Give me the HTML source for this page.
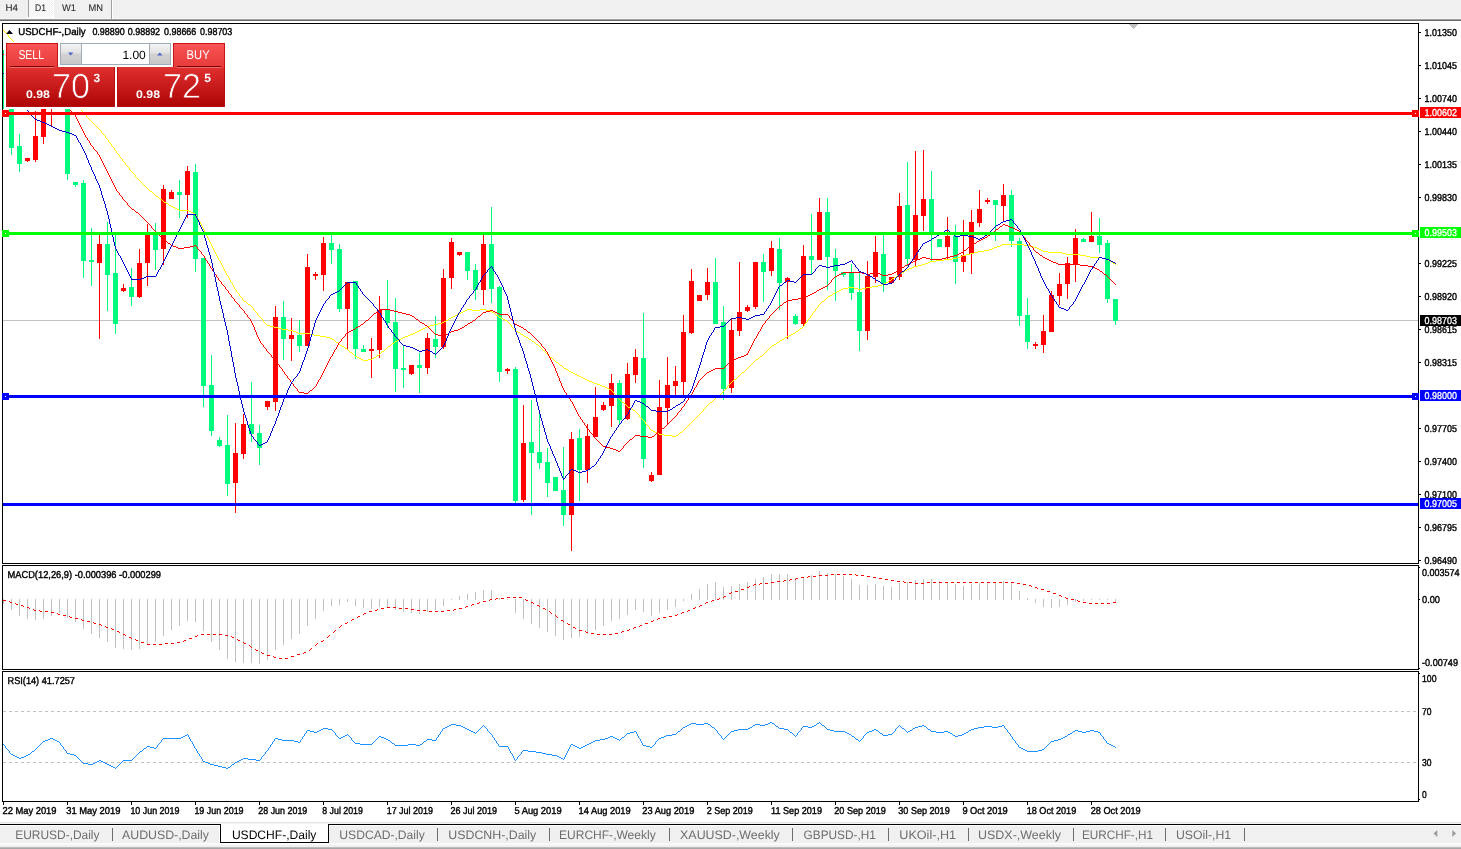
<!DOCTYPE html>
<html lang="en"><head><meta charset="utf-8"><title>USDCHF-,Daily</title>
<style>html,body{margin:0;padding:0;background:#fff;overflow:hidden}body{width:1461px;height:849px;position:relative}svg{position:absolute;left:0;top:0;display:block}text{font-family:"Liberation Sans", sans-serif;white-space:pre;text-rendering:geometricPrecision}</style>
</head><body>
<svg width="1461" height="849" viewBox="0 0 1461 849">
<defs>
<linearGradient id="gTop" x1="0" y1="0" x2="0" y2="1"><stop offset="0" stop-color="#f85454"/><stop offset="1" stop-color="#e83a3a"/></linearGradient>
<linearGradient id="gBot" gradientUnits="userSpaceOnUse" x1="0" y1="67" x2="0" y2="107"><stop offset="0" stop-color="#e03030"/><stop offset="1" stop-color="#ae0404"/></linearGradient>
<linearGradient id="gBtn" x1="0" y1="0" x2="0" y2="1"><stop offset="0" stop-color="#f4f4f4"/><stop offset="0.45" stop-color="#e2e2e2"/><stop offset="0.5" stop-color="#d2d2d2"/><stop offset="1" stop-color="#c8c8c8"/></linearGradient>
<clipPath id="cm"><rect x="3" y="24" width="1415" height="539"/></clipPath>
<pattern id="chk" x="0" y="0" width="2" height="2" patternUnits="userSpaceOnUse"><rect x="0" y="0" width="2" height="2" fill="#f0f0f0"/><rect x="0" y="0" width="1" height="1" fill="#fff"/><rect x="1" y="1" width="1" height="1" fill="#fff"/></pattern>
</defs>
<g shape-rendering="crispEdges">
<rect x="0" y="0" width="1461" height="849" fill="#fff" />
<rect x="0" y="0" width="1461" height="19" fill="#f0f0f0" />
<rect x="0" y="18" width="1461" height="1" fill="#f6f6f6" />
<rect x="0" y="19" width="1461" height="1" fill="#a0a0a0" />
<rect x="0" y="20" width="1461" height="1" fill="#6a6a6a" />
<rect x="29" y="0" width="24" height="17" fill="url(#chk)" />
<rect x="53" y="0" width="1" height="18" fill="#fff" />
<rect x="28" y="17" width="26" height="1" fill="#fff" />
<rect x="28" y="0" width="1" height="17" fill="#a0a0a0" />
<rect x="111" y="0" width="1" height="19" fill="#a0a0a0" />
<rect x="112" y="0" width="1" height="19" fill="#fff" />
<rect x="0" y="822" width="1461" height="1" fill="#e3e3e3" />
<rect x="0" y="823" width="1461" height="1" fill="#f4f4f4" />
<rect x="0" y="824" width="1461" height="1" fill="#000" />
<rect x="0" y="825" width="1461" height="18" fill="#f0f0f0" />
<rect x="0" y="825" width="1461" height="1" fill="#fff" />
<rect x="219" y="825" width="1" height="18" fill="#fff" />
<rect x="0" y="843" width="1461" height="2" fill="#fafafa" />
<rect x="0" y="845" width="1461" height="2" fill="#f0f0f0" />
<rect x="0" y="847" width="1461" height="1" fill="#bcbcbc" />
<rect x="0" y="848" width="1461" height="1" fill="#a6a6a6" />
<rect x="220" y="824" width="109" height="19" fill="#000" />
<rect x="221" y="824" width="107" height="18" fill="#fff" />
<rect x="112" y="828" width="1" height="13" fill="#6d6d6d" />
<rect x="437" y="828" width="1" height="13" fill="#6d6d6d" />
<rect x="549" y="828" width="1" height="13" fill="#6d6d6d" />
<rect x="669" y="828" width="1" height="13" fill="#6d6d6d" />
<rect x="792" y="828" width="1" height="13" fill="#6d6d6d" />
<rect x="888" y="828" width="1" height="13" fill="#6d6d6d" />
<rect x="968" y="828" width="1" height="13" fill="#6d6d6d" />
<rect x="1073" y="828" width="1" height="13" fill="#6d6d6d" />
<rect x="1165" y="828" width="1" height="13" fill="#6d6d6d" />
<rect x="1244" y="828" width="1" height="13" fill="#6d6d6d" />
<rect x="2" y="23" width="1417" height="1" fill="#000" />
<rect x="2" y="563" width="1417" height="1" fill="#000" />
<rect x="2" y="23" width="1" height="541" fill="#000" />
<rect x="2" y="565" width="1417" height="1" fill="#000" />
<rect x="2" y="669" width="1417" height="1" fill="#000" />
<rect x="2" y="565" width="1" height="105" fill="#000" />
<rect x="2" y="671" width="1417" height="1" fill="#000" />
<rect x="2" y="801" width="1417" height="1" fill="#000" />
<rect x="2" y="671" width="1" height="131" fill="#000" />
<rect x="1418" y="23" width="1" height="541" fill="#000" />
<rect x="1418" y="565" width="1" height="105" fill="#000" />
<rect x="1418" y="671" width="1" height="131" fill="#000" />
<rect x="1419" y="32" width="2" height="1" fill="#000" />
<rect x="1419" y="65" width="2" height="1" fill="#000" />
<rect x="1419" y="98" width="2" height="1" fill="#000" />
<rect x="1419" y="131" width="2" height="1" fill="#000" />
<rect x="1419" y="164" width="2" height="1" fill="#000" />
<rect x="1419" y="197" width="2" height="1" fill="#000" />
<rect x="1419" y="263" width="2" height="1" fill="#000" />
<rect x="1419" y="296" width="2" height="1" fill="#000" />
<rect x="1419" y="329" width="2" height="1" fill="#000" />
<rect x="1419" y="362" width="2" height="1" fill="#000" />
<rect x="1419" y="428" width="2" height="1" fill="#000" />
<rect x="1419" y="461" width="2" height="1" fill="#000" />
<rect x="1419" y="494" width="2" height="1" fill="#000" />
<rect x="1419" y="527" width="2" height="1" fill="#000" />
<rect x="1419" y="560" width="2" height="1" fill="#000" />
<rect x="1419" y="567" width="1" height="1" fill="#000" />
<rect x="1419" y="599" width="1" height="1" fill="#000" />
<rect x="1419" y="668" width="1" height="1" fill="#000" />
<rect x="1419" y="673" width="1" height="1" fill="#000" />
<rect x="1419" y="799" width="1" height="1" fill="#000" />
<rect x="3" y="802" width="1" height="3" fill="#000" />
<rect x="67" y="802" width="1" height="3" fill="#000" />
<rect x="131" y="802" width="1" height="3" fill="#000" />
<rect x="195" y="802" width="1" height="3" fill="#000" />
<rect x="259" y="802" width="1" height="3" fill="#000" />
<rect x="323" y="802" width="1" height="3" fill="#000" />
<rect x="387" y="802" width="1" height="3" fill="#000" />
<rect x="451" y="802" width="1" height="3" fill="#000" />
<rect x="515" y="802" width="1" height="3" fill="#000" />
<rect x="579" y="802" width="1" height="3" fill="#000" />
<rect x="643" y="802" width="1" height="3" fill="#000" />
<rect x="707" y="802" width="1" height="3" fill="#000" />
<rect x="771" y="802" width="1" height="3" fill="#000" />
<rect x="835" y="802" width="1" height="3" fill="#000" />
<rect x="899" y="802" width="1" height="3" fill="#000" />
<rect x="963" y="802" width="1" height="3" fill="#000" />
<rect x="1027" y="802" width="1" height="3" fill="#000" />
<rect x="1091" y="802" width="1" height="3" fill="#000" />
<rect x="1129" y="24" width="9" height="1" fill="#c0c0c0" />
<rect x="1130" y="25" width="7" height="1" fill="#c0c0c0" />
<rect x="1131" y="26" width="5" height="1" fill="#c0c0c0" />
<rect x="1132" y="27" width="3" height="1" fill="#c0c0c0" />
<rect x="1133" y="28" width="1" height="1" fill="#c0c0c0" />
</g>
<g clip-path="url(#cm)" shape-rendering="crispEdges">
<rect x="3" y="320" width="1415" height="1" fill="#c0c0c0" />
<rect x="3" y="50" width="1" height="59" fill="#00fa7d" />
<rect x="3" y="54" width="1" height="1" fill="#ff0000" />
<rect x="3" y="73" width="1" height="1" fill="#0000cd" />
<rect x="11" y="100" width="1" height="55" fill="#00fa7d" />
<rect x="9" y="104" width="5" height="44" fill="#00fa7d" />
<rect x="19" y="134" width="1" height="38" fill="#00fa7d" />
<rect x="17" y="146" width="5" height="18" fill="#00fa7d" />
<rect x="27" y="158" width="1" height="4" fill="#ff0000" />
<rect x="25" y="158" width="5" height="3" fill="#ff0000" />
<rect x="35" y="111" width="1" height="51" fill="#ff0000" />
<rect x="33" y="136" width="5" height="24" fill="#ff0000" />
<rect x="43" y="96" width="1" height="48" fill="#ff0000" />
<rect x="41" y="100" width="5" height="37" fill="#ff0000" />
<rect x="51" y="80" width="1" height="46" fill="#ff0000" />
<rect x="49" y="85" width="5" height="15" fill="#ff0000" />
<rect x="59" y="70" width="1" height="30" fill="#ff0000" />
<rect x="57" y="75" width="5" height="20" fill="#ff0000" />
<rect x="67" y="90" width="1" height="90" fill="#00fa7d" />
<rect x="65" y="95" width="5" height="79" fill="#00fa7d" />
<rect x="75" y="182" width="1" height="5" fill="#00fa7d" />
<rect x="73" y="182" width="5" height="3" fill="#00fa7d" />
<rect x="83" y="180" width="1" height="98" fill="#00fa7d" />
<rect x="81" y="183" width="5" height="78" fill="#00fa7d" />
<rect x="91" y="228" width="1" height="58" fill="#00fa7d" />
<rect x="89" y="260" width="5" height="2" fill="#00fa7d" />
<rect x="99" y="235" width="1" height="104" fill="#ff0000" />
<rect x="97" y="244" width="5" height="19" fill="#ff0000" />
<rect x="107" y="222" width="1" height="89" fill="#00fa7d" />
<rect x="105" y="244" width="5" height="31" fill="#00fa7d" />
<rect x="115" y="235" width="1" height="99" fill="#00fa7d" />
<rect x="113" y="273" width="5" height="51" fill="#00fa7d" />
<rect x="123" y="284" width="1" height="8" fill="#ff0000" />
<rect x="121" y="288" width="5" height="3" fill="#ff0000" />
<rect x="131" y="268" width="1" height="38" fill="#00fa7d" />
<rect x="129" y="287" width="5" height="10" fill="#00fa7d" />
<rect x="139" y="249" width="1" height="49" fill="#ff0000" />
<rect x="137" y="263" width="5" height="34" fill="#ff0000" />
<rect x="147" y="224" width="1" height="62" fill="#ff0000" />
<rect x="145" y="235" width="5" height="28" fill="#ff0000" />
<rect x="155" y="223" width="1" height="47" fill="#00fa7d" />
<rect x="153" y="235" width="5" height="15" fill="#00fa7d" />
<rect x="163" y="185" width="1" height="80" fill="#ff0000" />
<rect x="161" y="189" width="5" height="60" fill="#ff0000" />
<rect x="171" y="190" width="1" height="9" fill="#ff0000" />
<rect x="169" y="192" width="5" height="7" fill="#ff0000" />
<rect x="179" y="180" width="1" height="38" fill="#00fa7d" />
<rect x="177" y="192" width="5" height="3" fill="#00fa7d" />
<rect x="187" y="166" width="1" height="52" fill="#ff0000" />
<rect x="185" y="171" width="5" height="24" fill="#ff0000" />
<rect x="195" y="164" width="1" height="108" fill="#00fa7d" />
<rect x="193" y="172" width="5" height="87" fill="#00fa7d" />
<rect x="203" y="258" width="1" height="149" fill="#00fa7d" />
<rect x="201" y="258" width="5" height="128" fill="#00fa7d" />
<rect x="211" y="355" width="1" height="81" fill="#00fa7d" />
<rect x="209" y="385" width="5" height="46" fill="#00fa7d" />
<rect x="219" y="437" width="1" height="10" fill="#00fa7d" />
<rect x="217" y="440" width="5" height="6" fill="#00fa7d" />
<rect x="227" y="415" width="1" height="81" fill="#00fa7d" />
<rect x="225" y="445" width="5" height="39" fill="#00fa7d" />
<rect x="235" y="423" width="1" height="90" fill="#ff0000" />
<rect x="233" y="453" width="5" height="30" fill="#ff0000" />
<rect x="243" y="414" width="1" height="45" fill="#ff0000" />
<rect x="241" y="424" width="5" height="30" fill="#ff0000" />
<rect x="251" y="382" width="1" height="60" fill="#00fa7d" />
<rect x="249" y="424" width="5" height="10" fill="#00fa7d" />
<rect x="259" y="425" width="1" height="40" fill="#00fa7d" />
<rect x="257" y="433" width="5" height="15" fill="#00fa7d" />
<rect x="267" y="401" width="1" height="9" fill="#ff0000" />
<rect x="265" y="401" width="5" height="6" fill="#ff0000" />
<rect x="275" y="306" width="1" height="105" fill="#ff0000" />
<rect x="273" y="317" width="5" height="85" fill="#ff0000" />
<rect x="283" y="301" width="1" height="59" fill="#00fa7d" />
<rect x="281" y="317" width="5" height="22" fill="#00fa7d" />
<rect x="291" y="318" width="1" height="43" fill="#ff0000" />
<rect x="289" y="335" width="5" height="4" fill="#ff0000" />
<rect x="299" y="320" width="1" height="32" fill="#00fa7d" />
<rect x="297" y="335" width="5" height="11" fill="#00fa7d" />
<rect x="307" y="254" width="1" height="92" fill="#ff0000" />
<rect x="305" y="267" width="5" height="79" fill="#ff0000" />
<rect x="315" y="272" width="1" height="8" fill="#ff0000" />
<rect x="313" y="274" width="5" height="2" fill="#ff0000" />
<rect x="323" y="237" width="1" height="54" fill="#ff0000" />
<rect x="321" y="243" width="5" height="32" fill="#ff0000" />
<rect x="331" y="235" width="1" height="29" fill="#00fa7d" />
<rect x="329" y="243" width="5" height="7" fill="#00fa7d" />
<rect x="339" y="244" width="1" height="68" fill="#00fa7d" />
<rect x="337" y="249" width="5" height="60" fill="#00fa7d" />
<rect x="347" y="282" width="1" height="67" fill="#ff0000" />
<rect x="345" y="282" width="5" height="27" fill="#ff0000" />
<rect x="355" y="281" width="1" height="78" fill="#00fa7d" />
<rect x="353" y="281" width="5" height="68" fill="#00fa7d" />
<rect x="363" y="345" width="1" height="7" fill="#00fa7d" />
<rect x="361" y="349" width="5" height="3" fill="#00fa7d" />
<rect x="371" y="338" width="1" height="40" fill="#ff0000" />
<rect x="369" y="349" width="5" height="2" fill="#ff0000" />
<rect x="379" y="296" width="1" height="62" fill="#ff0000" />
<rect x="377" y="310" width="5" height="40" fill="#ff0000" />
<rect x="387" y="280" width="1" height="48" fill="#00fa7d" />
<rect x="385" y="310" width="5" height="13" fill="#00fa7d" />
<rect x="395" y="298" width="1" height="94" fill="#00fa7d" />
<rect x="393" y="322" width="5" height="47" fill="#00fa7d" />
<rect x="403" y="346" width="1" height="42" fill="#00fa7d" />
<rect x="401" y="368" width="5" height="2" fill="#00fa7d" />
<rect x="411" y="365" width="1" height="10" fill="#ff0000" />
<rect x="409" y="365" width="5" height="9" fill="#ff0000" />
<rect x="419" y="353" width="1" height="40" fill="#00fa7d" />
<rect x="417" y="365" width="5" height="3" fill="#00fa7d" />
<rect x="427" y="333" width="1" height="41" fill="#ff0000" />
<rect x="425" y="338" width="5" height="30" fill="#ff0000" />
<rect x="435" y="316" width="1" height="42" fill="#00fa7d" />
<rect x="433" y="339" width="5" height="8" fill="#00fa7d" />
<rect x="443" y="269" width="1" height="80" fill="#ff0000" />
<rect x="441" y="278" width="5" height="69" fill="#ff0000" />
<rect x="451" y="238" width="1" height="51" fill="#ff0000" />
<rect x="449" y="242" width="5" height="36" fill="#ff0000" />
<rect x="459" y="252" width="1" height="4" fill="#ff0000" />
<rect x="457" y="252" width="5" height="3" fill="#ff0000" />
<rect x="467" y="252" width="1" height="28" fill="#00fa7d" />
<rect x="465" y="252" width="5" height="19" fill="#00fa7d" />
<rect x="475" y="264" width="1" height="36" fill="#00fa7d" />
<rect x="473" y="270" width="5" height="20" fill="#00fa7d" />
<rect x="483" y="235" width="1" height="70" fill="#ff0000" />
<rect x="481" y="244" width="5" height="46" fill="#ff0000" />
<rect x="491" y="207" width="1" height="96" fill="#00fa7d" />
<rect x="489" y="244" width="5" height="45" fill="#00fa7d" />
<rect x="499" y="286" width="1" height="96" fill="#00fa7d" />
<rect x="497" y="287" width="5" height="85" fill="#00fa7d" />
<rect x="507" y="368" width="1" height="6" fill="#ff0000" />
<rect x="505" y="369" width="5" height="2" fill="#ff0000" />
<rect x="515" y="367" width="1" height="136" fill="#00fa7d" />
<rect x="513" y="369" width="5" height="132" fill="#00fa7d" />
<rect x="523" y="405" width="1" height="97" fill="#ff0000" />
<rect x="521" y="443" width="5" height="57" fill="#ff0000" />
<rect x="531" y="400" width="1" height="115" fill="#00fa7d" />
<rect x="529" y="442" width="5" height="11" fill="#00fa7d" />
<rect x="539" y="414" width="1" height="55" fill="#00fa7d" />
<rect x="537" y="452" width="5" height="11" fill="#00fa7d" />
<rect x="547" y="448" width="1" height="49" fill="#00fa7d" />
<rect x="545" y="462" width="5" height="21" fill="#00fa7d" />
<rect x="555" y="477" width="1" height="14" fill="#00fa7d" />
<rect x="553" y="477" width="5" height="14" fill="#00fa7d" />
<rect x="563" y="447" width="1" height="79" fill="#00fa7d" />
<rect x="561" y="490" width="5" height="25" fill="#00fa7d" />
<rect x="571" y="432" width="1" height="119" fill="#ff0000" />
<rect x="569" y="439" width="5" height="76" fill="#ff0000" />
<rect x="579" y="429" width="1" height="72" fill="#00fa7d" />
<rect x="577" y="438" width="5" height="32" fill="#00fa7d" />
<rect x="587" y="424" width="1" height="59" fill="#ff0000" />
<rect x="585" y="436" width="5" height="34" fill="#ff0000" />
<rect x="595" y="387" width="1" height="50" fill="#ff0000" />
<rect x="593" y="417" width="5" height="20" fill="#ff0000" />
<rect x="603" y="402" width="1" height="9" fill="#ff0000" />
<rect x="601" y="405" width="5" height="5" fill="#ff0000" />
<rect x="611" y="374" width="1" height="53" fill="#ff0000" />
<rect x="609" y="383" width="5" height="23" fill="#ff0000" />
<rect x="619" y="380" width="1" height="44" fill="#00fa7d" />
<rect x="617" y="383" width="5" height="37" fill="#00fa7d" />
<rect x="627" y="363" width="1" height="57" fill="#ff0000" />
<rect x="625" y="374" width="5" height="45" fill="#ff0000" />
<rect x="635" y="349" width="1" height="34" fill="#ff0000" />
<rect x="633" y="357" width="5" height="18" fill="#ff0000" />
<rect x="643" y="313" width="1" height="155" fill="#00fa7d" />
<rect x="641" y="358" width="5" height="101" fill="#00fa7d" />
<rect x="651" y="472" width="1" height="10" fill="#ff0000" />
<rect x="649" y="475" width="5" height="6" fill="#ff0000" />
<rect x="659" y="380" width="1" height="95" fill="#ff0000" />
<rect x="657" y="407" width="5" height="68" fill="#ff0000" />
<rect x="667" y="357" width="1" height="67" fill="#ff0000" />
<rect x="665" y="385" width="5" height="23" fill="#ff0000" />
<rect x="675" y="366" width="1" height="29" fill="#ff0000" />
<rect x="673" y="381" width="5" height="5" fill="#ff0000" />
<rect x="683" y="315" width="1" height="80" fill="#ff0000" />
<rect x="681" y="332" width="5" height="50" fill="#ff0000" />
<rect x="691" y="269" width="1" height="65" fill="#ff0000" />
<rect x="689" y="281" width="5" height="52" fill="#ff0000" />
<rect x="699" y="295" width="1" height="6" fill="#ff0000" />
<rect x="697" y="295" width="5" height="6" fill="#ff0000" />
<rect x="707" y="268" width="1" height="32" fill="#ff0000" />
<rect x="705" y="282" width="5" height="13" fill="#ff0000" />
<rect x="715" y="258" width="1" height="66" fill="#00fa7d" />
<rect x="713" y="282" width="5" height="42" fill="#00fa7d" />
<rect x="723" y="306" width="1" height="94" fill="#00fa7d" />
<rect x="721" y="322" width="5" height="67" fill="#00fa7d" />
<rect x="731" y="319" width="1" height="74" fill="#ff0000" />
<rect x="729" y="330" width="5" height="58" fill="#ff0000" />
<rect x="739" y="262" width="1" height="74" fill="#ff0000" />
<rect x="737" y="312" width="5" height="19" fill="#ff0000" />
<rect x="747" y="305" width="1" height="7" fill="#ff0000" />
<rect x="745" y="307" width="5" height="4" fill="#ff0000" />
<rect x="755" y="262" width="1" height="47" fill="#ff0000" />
<rect x="753" y="262" width="5" height="45" fill="#ff0000" />
<rect x="763" y="254" width="1" height="48" fill="#00fa7d" />
<rect x="761" y="262" width="5" height="10" fill="#00fa7d" />
<rect x="771" y="241" width="1" height="35" fill="#ff0000" />
<rect x="769" y="248" width="5" height="23" fill="#ff0000" />
<rect x="779" y="238" width="1" height="72" fill="#00fa7d" />
<rect x="777" y="249" width="5" height="34" fill="#00fa7d" />
<rect x="787" y="277" width="1" height="62" fill="#ff0000" />
<rect x="785" y="278" width="5" height="4" fill="#ff0000" />
<rect x="795" y="314" width="1" height="11" fill="#00fa7d" />
<rect x="793" y="316" width="5" height="8" fill="#00fa7d" />
<rect x="803" y="245" width="1" height="82" fill="#ff0000" />
<rect x="801" y="256" width="5" height="68" fill="#ff0000" />
<rect x="811" y="214" width="1" height="60" fill="#00fa7d" />
<rect x="809" y="256" width="5" height="4" fill="#00fa7d" />
<rect x="819" y="198" width="1" height="62" fill="#ff0000" />
<rect x="817" y="212" width="5" height="48" fill="#ff0000" />
<rect x="827" y="198" width="1" height="92" fill="#00fa7d" />
<rect x="825" y="212" width="5" height="45" fill="#00fa7d" />
<rect x="835" y="249" width="1" height="52" fill="#00fa7d" />
<rect x="833" y="258" width="5" height="13" fill="#00fa7d" />
<rect x="843" y="272" width="1" height="5" fill="#00fa7d" />
<rect x="841" y="272" width="5" height="3" fill="#00fa7d" />
<rect x="851" y="264" width="1" height="36" fill="#00fa7d" />
<rect x="849" y="273" width="5" height="20" fill="#00fa7d" />
<rect x="859" y="273" width="1" height="78" fill="#00fa7d" />
<rect x="857" y="292" width="5" height="39" fill="#00fa7d" />
<rect x="867" y="261" width="1" height="79" fill="#ff0000" />
<rect x="865" y="276" width="5" height="55" fill="#ff0000" />
<rect x="875" y="236" width="1" height="47" fill="#ff0000" />
<rect x="873" y="252" width="5" height="25" fill="#ff0000" />
<rect x="883" y="235" width="1" height="57" fill="#00fa7d" />
<rect x="881" y="254" width="5" height="30" fill="#00fa7d" />
<rect x="891" y="277" width="1" height="6" fill="#ff0000" />
<rect x="889" y="277" width="5" height="6" fill="#ff0000" />
<rect x="899" y="193" width="1" height="87" fill="#ff0000" />
<rect x="897" y="206" width="5" height="71" fill="#ff0000" />
<rect x="907" y="162" width="1" height="104" fill="#00fa7d" />
<rect x="905" y="205" width="5" height="54" fill="#00fa7d" />
<rect x="915" y="151" width="1" height="115" fill="#ff0000" />
<rect x="913" y="215" width="5" height="45" fill="#ff0000" />
<rect x="923" y="150" width="1" height="81" fill="#ff0000" />
<rect x="921" y="199" width="5" height="17" fill="#ff0000" />
<rect x="931" y="171" width="1" height="90" fill="#00fa7d" />
<rect x="929" y="199" width="5" height="36" fill="#00fa7d" />
<rect x="939" y="239" width="1" height="8" fill="#00fa7d" />
<rect x="937" y="239" width="5" height="8" fill="#00fa7d" />
<rect x="947" y="217" width="1" height="43" fill="#ff0000" />
<rect x="945" y="236" width="5" height="11" fill="#ff0000" />
<rect x="955" y="225" width="1" height="59" fill="#00fa7d" />
<rect x="953" y="236" width="5" height="26" fill="#00fa7d" />
<rect x="963" y="220" width="1" height="52" fill="#ff0000" />
<rect x="961" y="255" width="5" height="7" fill="#ff0000" />
<rect x="971" y="210" width="1" height="64" fill="#ff0000" />
<rect x="969" y="222" width="5" height="32" fill="#ff0000" />
<rect x="979" y="190" width="1" height="37" fill="#ff0000" />
<rect x="977" y="209" width="5" height="14" fill="#ff0000" />
<rect x="987" y="198" width="1" height="6" fill="#ff0000" />
<rect x="985" y="200" width="5" height="2" fill="#ff0000" />
<rect x="995" y="200" width="1" height="41" fill="#00fa7d" />
<rect x="993" y="200" width="5" height="5" fill="#00fa7d" />
<rect x="1003" y="184" width="1" height="38" fill="#ff0000" />
<rect x="1001" y="195" width="5" height="11" fill="#ff0000" />
<rect x="1011" y="190" width="1" height="57" fill="#00fa7d" />
<rect x="1009" y="195" width="5" height="46" fill="#00fa7d" />
<rect x="1019" y="238" width="1" height="88" fill="#00fa7d" />
<rect x="1017" y="241" width="5" height="75" fill="#00fa7d" />
<rect x="1027" y="298" width="1" height="51" fill="#00fa7d" />
<rect x="1025" y="315" width="5" height="27" fill="#00fa7d" />
<rect x="1035" y="342" width="1" height="7" fill="#ff0000" />
<rect x="1033" y="344" width="5" height="2" fill="#ff0000" />
<rect x="1043" y="315" width="1" height="38" fill="#ff0000" />
<rect x="1041" y="331" width="5" height="14" fill="#ff0000" />
<rect x="1051" y="291" width="1" height="41" fill="#ff0000" />
<rect x="1049" y="295" width="5" height="37" fill="#ff0000" />
<rect x="1059" y="273" width="1" height="32" fill="#ff0000" />
<rect x="1057" y="284" width="5" height="12" fill="#ff0000" />
<rect x="1067" y="257" width="1" height="42" fill="#ff0000" />
<rect x="1065" y="263" width="5" height="21" fill="#ff0000" />
<rect x="1075" y="229" width="1" height="53" fill="#ff0000" />
<rect x="1073" y="238" width="5" height="26" fill="#ff0000" />
<rect x="1083" y="238" width="1" height="4" fill="#00fa7d" />
<rect x="1081" y="239" width="5" height="3" fill="#00fa7d" />
<rect x="1091" y="212" width="1" height="30" fill="#ff0000" />
<rect x="1089" y="236" width="5" height="6" fill="#ff0000" />
<rect x="1099" y="218" width="1" height="35" fill="#00fa7d" />
<rect x="1097" y="236" width="5" height="9" fill="#00fa7d" />
<rect x="1107" y="240" width="1" height="63" fill="#00fa7d" />
<rect x="1105" y="243" width="5" height="56" fill="#00fa7d" />
<rect x="1115" y="299" width="1" height="26" fill="#00fa7d" />
<rect x="1113" y="299" width="5" height="22" fill="#00fa7d" />
<path d="M81 110h1v1h-1zM82 111h1v1h-1zM83 112h1v1h-1zM84 113h1v1h-1zM85 114h1v1h-1zM86 115h1v1h-1zM86 116h1v1h-1zM87 117h1v1h-1zM88 118h1v1h-1zM89 119h1v1h-1zM90 120h1v1h-1zM91 121h1v1h-1zM92 122h1v1h-1zM93 123h1v1h-1zM94 124h1v1h-1zM95 125h1v1h-1zM96 126h1v1h-1zM97 127h1v1h-1zM98 128h1v1h-1zM99 129h1v1h-1zM100 130h1v1h-1zM101 131h1v1h-1zM101 132h1v1h-1zM102 133h1v1h-1zM103 134h1v1h-1zM104 135h1v1h-1zM105 136h1v1h-1zM105 137h1v1h-1zM106 138h1v1h-1zM107 139h1v1h-1zM108 140h1v1h-1zM108 141h1v1h-1zM109 142h1v1h-1zM110 143h1v1h-1zM111 144h1v1h-1zM111 145h1v1h-1zM112 146h1v1h-1zM113 147h1v1h-1zM114 148h1v1h-1zM114 149h1v1h-1zM115 150h1v1h-1zM116 151h1v1h-1zM116 152h1v1h-1zM117 153h1v1h-1zM118 154h1v1h-1zM119 155h1v1h-1zM119 156h1v1h-1zM120 157h1v1h-1zM121 158h1v1h-1zM122 159h1v1h-1zM122 160h1v1h-1zM123 161h1v1h-1zM124 162h1v1h-1zM125 163h1v1h-1zM125 164h1v1h-1zM126 165h1v1h-1zM127 166h1v1h-1zM128 167h1v1h-1zM129 168h1v1h-1zM129 169h1v1h-1zM130 170h1v1h-1zM131 171h1v1h-1zM132 172h1v1h-1zM133 173h1v1h-1zM134 174h1v1h-1zM135 175h1v1h-1zM135 176h1v1h-1zM136 177h1v1h-1zM137 178h1v1h-1zM138 179h1v1h-1zM139 180h1v1h-1zM140 181h1v1h-1zM141 182h1v1h-1zM142 183h1v1h-1zM143 184h1v1h-1zM144 185h1v1h-1zM145 186h1v1h-1zM146 187h1v1h-1zM147 188h1v1h-1zM148 189h1v1h-1zM149 190h1v1h-1zM150 191h2v1h-2zM152 192h1v1h-1zM153 193h1v1h-1zM154 194h1v1h-1zM155 195h1v1h-1zM156 196h2v1h-2zM158 197h1v1h-1zM159 198h1v1h-1zM160 199h2v1h-2zM162 200h1v1h-1zM163 201h1v1h-1zM164 202h2v1h-2zM166 203h2v1h-2zM168 204h1v1h-1zM169 205h2v1h-2zM171 206h2v1h-2zM173 207h2v1h-2zM175 208h2v1h-2zM177 209h2v1h-2zM179 210h10v1h-10zM189 211h2v1h-2zM191 212h2v1h-2zM193 213h2v1h-2zM195 214h1v1h-1zM196 215h1v1h-1zM196 216h1v1h-1zM197 217h1v1h-1zM197 218h1v1h-1zM198 219h1v1h-1zM198 220h1v1h-1zM199 221h1v1h-1zM200 222h1v1h-1zM200 223h1v1h-1zM201 224h1v1h-1zM201 225h1v1h-1zM202 226h1v1h-1zM202 227h1v1h-1zM203 228h1v1h-1zM203 229h1v1h-1zM204 230h1v1h-1zM204 231h1v1h-1zM205 232h1v1h-1zM205 233h1v1h-1zM206 234h1v1h-1zM206 235h1v1h-1zM207 236h1v1h-1zM207 237h1v1h-1zM208 238h1v1h-1zM208 239h1v1h-1zM209 240h1v1h-1zM209 241h1v1h-1zM210 242h1v1h-1zM210 243h1v1h-1zM211 244h1v1h-1zM1002 244h22v1h-22zM211 245h1v1h-1zM1000 245h2v1h-2zM1024 245h6v1h-6zM212 246h1v1h-1zM997 246h3v1h-3zM1030 246h4v1h-4zM212 247h1v1h-1zM994 247h3v1h-3zM1034 247h3v1h-3zM213 248h1v1h-1zM992 248h2v1h-2zM1037 248h2v1h-2zM213 249h1v1h-1zM989 249h3v1h-3zM1039 249h2v1h-2zM214 250h1v1h-1zM984 250h5v1h-5zM1041 250h2v1h-2zM214 251h1v1h-1zM978 251h6v1h-6zM1043 251h5v1h-5zM215 252h1v1h-1zM974 252h4v1h-4zM1048 252h14v1h-14zM215 253h1v1h-1zM970 253h4v1h-4zM1062 253h4v1h-4zM216 254h1v1h-1zM966 254h4v1h-4zM1066 254h14v1h-14zM216 255h1v1h-1zM962 255h4v1h-4zM1080 255h6v1h-6zM217 256h1v1h-1zM960 256h2v1h-2zM1086 256h4v1h-4zM217 257h1v1h-1zM957 257h3v1h-3zM1090 257h12v1h-12zM218 258h1v1h-1zM952 258h5v1h-5zM1102 258h4v1h-4zM218 259h1v1h-1zM944 259h8v1h-8zM1106 259h2v1h-2zM219 260h1v1h-1zM936 260h8v1h-8zM1108 260h2v1h-2zM220 261h1v1h-1zM930 261h6v1h-6zM1110 261h2v1h-2zM220 262h1v1h-1zM928 262h2v1h-2zM1112 262h1v1h-1zM221 263h1v1h-1zM925 263h3v1h-3zM1113 263h2v1h-2zM221 264h1v1h-1zM922 264h3v1h-3zM1115 264h1v1h-1zM222 265h1v1h-1zM918 265h4v1h-4zM222 266h1v1h-1zM914 266h4v1h-4zM223 267h1v1h-1zM912 267h2v1h-2zM223 268h1v1h-1zM909 268h3v1h-3zM224 269h1v1h-1zM907 269h2v1h-2zM224 270h1v1h-1zM905 270h2v1h-2zM225 271h1v1h-1zM904 271h1v1h-1zM225 272h1v1h-1zM902 272h2v1h-2zM226 273h1v1h-1zM900 273h2v1h-2zM226 274h1v1h-1zM899 274h1v1h-1zM227 275h1v1h-1zM897 275h2v1h-2zM228 276h1v1h-1zM896 276h1v1h-1zM228 277h1v1h-1zM894 277h2v1h-2zM229 278h1v1h-1zM892 278h2v1h-2zM229 279h1v1h-1zM891 279h1v1h-1zM230 280h1v1h-1zM889 280h2v1h-2zM230 281h1v1h-1zM888 281h1v1h-1zM231 282h1v1h-1zM886 282h2v1h-2zM232 283h1v1h-1zM884 283h2v1h-2zM232 284h1v1h-1zM882 284h2v1h-2zM233 285h1v1h-1zM878 285h4v1h-4zM233 286h1v1h-1zM872 286h6v1h-6zM234 287h1v1h-1zM848 287h6v1h-6zM866 287h6v1h-6zM234 288h1v1h-1zM843 288h5v1h-5zM854 288h4v1h-4zM862 288h4v1h-4zM235 289h1v1h-1zM841 289h2v1h-2zM858 289h4v1h-4zM236 290h1v1h-1zM839 290h2v1h-2zM236 291h1v1h-1zM837 291h2v1h-2zM237 292h1v1h-1zM835 292h2v1h-2zM238 293h1v1h-1zM833 293h2v1h-2zM239 294h1v1h-1zM832 294h1v1h-1zM239 295h1v1h-1zM830 295h2v1h-2zM240 296h1v1h-1zM828 296h2v1h-2zM241 297h1v1h-1zM827 297h1v1h-1zM242 298h1v1h-1zM826 298h1v1h-1zM242 299h1v1h-1zM825 299h1v1h-1zM243 300h1v1h-1zM824 300h1v1h-1zM244 301h2v1h-2zM822 301h2v1h-2zM246 302h1v1h-1zM821 302h1v1h-1zM247 303h1v1h-1zM820 303h1v1h-1zM248 304h2v1h-2zM819 304h1v1h-1zM250 305h1v1h-1zM818 305h1v1h-1zM251 306h1v1h-1zM818 306h1v1h-1zM252 307h1v1h-1zM817 307h1v1h-1zM253 308h1v1h-1zM816 308h1v1h-1zM253 309h1v1h-1zM467 309h5v1h-5zM480 309h6v1h-6zM815 309h1v1h-1zM254 310h1v1h-1zM465 310h2v1h-2zM472 310h8v1h-8zM486 310h4v1h-4zM815 310h1v1h-1zM255 311h1v1h-1zM463 311h2v1h-2zM490 311h2v1h-2zM814 311h1v1h-1zM256 312h1v1h-1zM461 312h2v1h-2zM492 312h2v1h-2zM813 312h1v1h-1zM257 313h1v1h-1zM459 313h2v1h-2zM494 313h1v1h-1zM812 313h1v1h-1zM257 314h1v1h-1zM457 314h2v1h-2zM495 314h1v1h-1zM812 314h1v1h-1zM258 315h1v1h-1zM455 315h2v1h-2zM496 315h2v1h-2zM811 315h1v1h-1zM259 316h1v1h-1zM453 316h2v1h-2zM498 316h1v1h-1zM810 316h1v1h-1zM260 317h1v1h-1zM451 317h2v1h-2zM499 317h2v1h-2zM810 317h1v1h-1zM261 318h1v1h-1zM449 318h2v1h-2zM501 318h2v1h-2zM809 318h1v1h-1zM262 319h1v1h-1zM448 319h1v1h-1zM503 319h2v1h-2zM808 319h1v1h-1zM263 320h1v1h-1zM446 320h2v1h-2zM505 320h2v1h-2zM807 320h1v1h-1zM263 321h1v1h-1zM444 321h2v1h-2zM507 321h1v1h-1zM807 321h1v1h-1zM264 322h1v1h-1zM442 322h2v1h-2zM508 322h1v1h-1zM806 322h1v1h-1zM265 323h1v1h-1zM438 323h4v1h-4zM509 323h1v1h-1zM805 323h1v1h-1zM266 324h1v1h-1zM434 324h4v1h-4zM510 324h1v1h-1zM804 324h1v1h-1zM267 325h3v1h-3zM430 325h4v1h-4zM511 325h1v1h-1zM804 325h1v1h-1zM270 326h4v1h-4zM427 326h3v1h-3zM511 326h1v1h-1zM803 326h1v1h-1zM274 327h4v1h-4zM425 327h2v1h-2zM512 327h1v1h-1zM802 327h1v1h-1zM278 328h4v1h-4zM423 328h2v1h-2zM513 328h1v1h-1zM800 328h2v1h-2zM282 329h6v1h-6zM421 329h2v1h-2zM514 329h1v1h-1zM799 329h1v1h-1zM288 330h5v1h-5zM419 330h2v1h-2zM515 330h1v1h-1zM798 330h1v1h-1zM293 331h3v1h-3zM417 331h2v1h-2zM516 331h2v1h-2zM796 331h2v1h-2zM296 332h2v1h-2zM415 332h2v1h-2zM518 332h2v1h-2zM795 332h1v1h-1zM298 333h12v1h-12zM413 333h2v1h-2zM520 333h1v1h-1zM793 333h2v1h-2zM310 334h4v1h-4zM410 334h3v1h-3zM521 334h2v1h-2zM791 334h2v1h-2zM314 335h6v1h-6zM408 335h2v1h-2zM523 335h1v1h-1zM789 335h2v1h-2zM320 336h6v1h-6zM405 336h3v1h-3zM524 336h2v1h-2zM787 336h2v1h-2zM326 337h4v1h-4zM403 337h2v1h-2zM526 337h2v1h-2zM785 337h2v1h-2zM330 338h2v1h-2zM401 338h2v1h-2zM528 338h1v1h-1zM784 338h1v1h-1zM332 339h2v1h-2zM399 339h2v1h-2zM529 339h2v1h-2zM782 339h2v1h-2zM334 340h1v1h-1zM397 340h2v1h-2zM531 340h1v1h-1zM780 340h2v1h-2zM335 341h1v1h-1zM395 341h2v1h-2zM532 341h2v1h-2zM779 341h1v1h-1zM336 342h2v1h-2zM394 342h1v1h-1zM534 342h1v1h-1zM777 342h2v1h-2zM338 343h1v1h-1zM392 343h2v1h-2zM535 343h1v1h-1zM776 343h1v1h-1zM339 344h1v1h-1zM391 344h1v1h-1zM536 344h2v1h-2zM774 344h2v1h-2zM340 345h2v1h-2zM390 345h1v1h-1zM538 345h1v1h-1zM772 345h2v1h-2zM342 346h2v1h-2zM388 346h2v1h-2zM539 346h1v1h-1zM771 346h1v1h-1zM344 347h1v1h-1zM387 347h1v1h-1zM540 347h1v1h-1zM770 347h1v1h-1zM345 348h2v1h-2zM386 348h1v1h-1zM541 348h1v1h-1zM769 348h1v1h-1zM347 349h1v1h-1zM385 349h1v1h-1zM542 349h1v1h-1zM768 349h1v1h-1zM348 350h1v1h-1zM384 350h1v1h-1zM543 350h1v1h-1zM767 350h1v1h-1zM349 351h1v1h-1zM382 351h2v1h-2zM544 351h1v1h-1zM766 351h1v1h-1zM350 352h2v1h-2zM381 352h1v1h-1zM545 352h1v1h-1zM765 352h1v1h-1zM352 353h1v1h-1zM380 353h1v1h-1zM546 353h1v1h-1zM764 353h1v1h-1zM353 354h1v1h-1zM379 354h1v1h-1zM547 354h1v1h-1zM763 354h1v1h-1zM354 355h1v1h-1zM377 355h2v1h-2zM548 355h1v1h-1zM762 355h1v1h-1zM355 356h2v1h-2zM376 356h1v1h-1zM549 356h1v1h-1zM760 356h2v1h-2zM357 357h2v1h-2zM374 357h2v1h-2zM550 357h2v1h-2zM759 357h1v1h-1zM359 358h2v1h-2zM372 358h2v1h-2zM552 358h1v1h-1zM758 358h1v1h-1zM361 359h2v1h-2zM368 359h4v1h-4zM553 359h1v1h-1zM756 359h2v1h-2zM363 360h5v1h-5zM554 360h1v1h-1zM755 360h1v1h-1zM555 361h1v1h-1zM754 361h1v1h-1zM556 362h2v1h-2zM753 362h1v1h-1zM558 363h1v1h-1zM752 363h1v1h-1zM559 364h1v1h-1zM751 364h1v1h-1zM560 365h2v1h-2zM750 365h1v1h-1zM562 366h1v1h-1zM749 366h1v1h-1zM563 367h1v1h-1zM748 367h1v1h-1zM564 368h2v1h-2zM747 368h1v1h-1zM566 369h2v1h-2zM746 369h1v1h-1zM568 370h1v1h-1zM745 370h1v1h-1zM569 371h2v1h-2zM744 371h1v1h-1zM571 372h2v1h-2zM742 372h2v1h-2zM573 373h2v1h-2zM741 373h1v1h-1zM575 374h2v1h-2zM740 374h1v1h-1zM577 375h2v1h-2zM739 375h1v1h-1zM579 376h2v1h-2zM738 376h1v1h-1zM581 377h2v1h-2zM737 377h1v1h-1zM583 378h2v1h-2zM736 378h1v1h-1zM585 379h2v1h-2zM734 379h2v1h-2zM587 380h2v1h-2zM733 380h1v1h-1zM589 381h3v1h-3zM732 381h1v1h-1zM592 382h2v1h-2zM731 382h1v1h-1zM594 383h3v1h-3zM730 383h1v1h-1zM597 384h3v1h-3zM729 384h1v1h-1zM600 385h2v1h-2zM728 385h1v1h-1zM602 386h3v1h-3zM727 386h1v1h-1zM605 387h2v1h-2zM727 387h1v1h-1zM607 388h2v1h-2zM726 388h1v1h-1zM609 389h2v1h-2zM725 389h1v1h-1zM611 390h1v1h-1zM724 390h1v1h-1zM612 391h1v1h-1zM723 391h1v1h-1zM613 392h1v1h-1zM722 392h1v1h-1zM614 393h1v1h-1zM721 393h1v1h-1zM615 394h1v1h-1zM720 394h1v1h-1zM615 395h1v1h-1zM718 395h2v1h-2zM616 396h1v1h-1zM717 396h1v1h-1zM617 397h1v1h-1zM716 397h1v1h-1zM618 398h1v1h-1zM715 398h1v1h-1zM619 399h1v1h-1zM714 399h1v1h-1zM620 400h1v1h-1zM713 400h1v1h-1zM621 401h1v1h-1zM712 401h1v1h-1zM622 402h2v1h-2zM710 402h2v1h-2zM624 403h1v1h-1zM709 403h1v1h-1zM625 404h1v1h-1zM708 404h1v1h-1zM626 405h1v1h-1zM707 405h1v1h-1zM627 406h1v1h-1zM706 406h1v1h-1zM628 407h2v1h-2zM705 407h1v1h-1zM630 408h2v1h-2zM704 408h1v1h-1zM632 409h1v1h-1zM703 409h1v1h-1zM633 410h2v1h-2zM703 410h1v1h-1zM635 411h1v1h-1zM702 411h1v1h-1zM636 412h1v1h-1zM701 412h1v1h-1zM637 413h1v1h-1zM700 413h1v1h-1zM638 414h1v1h-1zM699 414h1v1h-1zM639 415h1v1h-1zM698 415h1v1h-1zM639 416h1v1h-1zM697 416h1v1h-1zM640 417h1v1h-1zM696 417h1v1h-1zM641 418h1v1h-1zM695 418h1v1h-1zM642 419h1v1h-1zM694 419h1v1h-1zM643 420h1v1h-1zM693 420h1v1h-1zM644 421h1v1h-1zM692 421h1v1h-1zM645 422h1v1h-1zM691 422h1v1h-1zM645 423h1v1h-1zM690 423h1v1h-1zM646 424h1v1h-1zM689 424h1v1h-1zM647 425h1v1h-1zM688 425h1v1h-1zM648 426h1v1h-1zM687 426h1v1h-1zM649 427h1v1h-1zM686 427h1v1h-1zM649 428h1v1h-1zM685 428h1v1h-1zM650 429h1v1h-1zM684 429h1v1h-1zM651 430h2v1h-2zM683 430h1v1h-1zM653 431h2v1h-2zM682 431h1v1h-1zM655 432h2v1h-2zM680 432h2v1h-2zM657 433h2v1h-2zM679 433h1v1h-1zM659 434h5v1h-5zM678 434h1v1h-1zM664 435h8v1h-8zM676 435h2v1h-2zM672 436h4v1h-4z" fill="#ffff00"/>
<path d="M70 110h1v1h-1zM71 111h1v1h-1zM72 112h1v1h-1zM73 113h1v1h-1zM74 114h1v1h-1zM75 115h1v1h-1zM75 116h1v1h-1zM76 117h1v1h-1zM76 118h1v1h-1zM77 119h1v1h-1zM77 120h1v1h-1zM78 121h1v1h-1zM78 122h1v1h-1zM79 123h1v1h-1zM79 124h1v1h-1zM80 125h1v1h-1zM80 126h1v1h-1zM81 127h1v1h-1zM81 128h1v1h-1zM82 129h1v1h-1zM82 130h1v1h-1zM83 131h1v1h-1zM83 132h1v1h-1zM84 133h1v1h-1zM84 134h1v1h-1zM85 135h1v1h-1zM85 136h1v1h-1zM86 137h1v1h-1zM87 138h1v1h-1zM87 139h1v1h-1zM88 140h1v1h-1zM89 141h1v1h-1zM89 142h1v1h-1zM90 143h1v1h-1zM90 144h1v1h-1zM91 145h1v1h-1zM92 146h1v1h-1zM93 147h1v1h-1zM93 148h1v1h-1zM94 149h1v1h-1zM95 150h1v1h-1zM96 151h1v1h-1zM97 152h1v1h-1zM97 153h1v1h-1zM98 154h1v1h-1zM99 155h1v1h-1zM99 156h1v1h-1zM100 157h1v1h-1zM100 158h1v1h-1zM101 159h1v1h-1zM101 160h1v1h-1zM102 161h1v1h-1zM102 162h1v1h-1zM103 163h1v1h-1zM103 164h1v1h-1zM104 165h1v1h-1zM104 166h1v1h-1zM105 167h1v1h-1zM105 168h1v1h-1zM106 169h1v1h-1zM106 170h1v1h-1zM107 171h1v1h-1zM107 172h1v1h-1zM108 173h1v1h-1zM108 174h1v1h-1zM109 175h1v1h-1zM109 176h1v1h-1zM110 177h1v1h-1zM110 178h1v1h-1zM111 179h1v1h-1zM111 180h1v1h-1zM112 181h1v1h-1zM112 182h1v1h-1zM113 183h1v1h-1zM113 184h1v1h-1zM114 185h1v1h-1zM114 186h1v1h-1zM115 187h1v1h-1zM115 188h1v1h-1zM116 189h1v1h-1zM116 190h1v1h-1zM117 191h1v1h-1zM118 192h1v1h-1zM119 193h1v1h-1zM119 194h1v1h-1zM120 195h1v1h-1zM121 196h1v1h-1zM122 197h1v1h-1zM122 198h1v1h-1zM123 199h1v1h-1zM124 200h1v1h-1zM125 201h1v1h-1zM126 202h1v1h-1zM127 203h1v1h-1zM127 204h1v1h-1zM128 205h1v1h-1zM129 206h1v1h-1zM130 207h1v1h-1zM131 208h1v1h-1zM132 209h2v1h-2zM134 210h1v1h-1zM135 211h1v1h-1zM136 212h2v1h-2zM138 213h1v1h-1zM139 214h1v1h-1zM140 215h1v1h-1zM141 216h1v1h-1zM142 217h1v1h-1zM143 218h1v1h-1zM144 219h1v1h-1zM145 220h1v1h-1zM146 221h1v1h-1zM147 222h1v1h-1zM148 223h1v1h-1zM149 224h1v1h-1zM1003 224h2v1h-2zM150 225h1v1h-1zM1002 225h1v1h-1zM1005 225h3v1h-3zM151 226h1v1h-1zM1000 226h2v1h-2zM1008 226h2v1h-2zM151 227h1v1h-1zM999 227h1v1h-1zM1010 227h3v1h-3zM152 228h1v1h-1zM998 228h1v1h-1zM1013 228h2v1h-2zM153 229h1v1h-1zM996 229h2v1h-2zM1015 229h2v1h-2zM154 230h1v1h-1zM995 230h1v1h-1zM1017 230h2v1h-2zM155 231h1v1h-1zM994 231h1v1h-1zM1019 231h1v1h-1zM156 232h1v1h-1zM992 232h2v1h-2zM1020 232h1v1h-1zM157 233h1v1h-1zM991 233h1v1h-1zM1021 233h1v1h-1zM158 234h1v1h-1zM990 234h1v1h-1zM1021 234h1v1h-1zM159 235h1v1h-1zM988 235h2v1h-2zM1022 235h1v1h-1zM160 236h1v1h-1zM987 236h1v1h-1zM1023 236h1v1h-1zM161 237h1v1h-1zM985 237h2v1h-2zM1024 237h1v1h-1zM162 238h1v1h-1zM983 238h2v1h-2zM1025 238h1v1h-1zM163 239h1v1h-1zM981 239h2v1h-2zM1025 239h1v1h-1zM164 240h2v1h-2zM979 240h2v1h-2zM1026 240h1v1h-1zM166 241h1v1h-1zM977 241h2v1h-2zM1027 241h1v1h-1zM167 242h1v1h-1zM976 242h1v1h-1zM1028 242h1v1h-1zM168 243h2v1h-2zM974 243h2v1h-2zM1029 243h1v1h-1zM170 244h1v1h-1zM972 244h2v1h-2zM1029 244h1v1h-1zM171 245h2v1h-2zM194 245h2v1h-2zM971 245h1v1h-1zM1030 245h1v1h-1zM173 246h3v1h-3zM190 246h4v1h-4zM196 246h1v1h-1zM970 246h1v1h-1zM1031 246h1v1h-1zM176 247h2v1h-2zM184 247h6v1h-6zM197 247h1v1h-1zM968 247h2v1h-2zM1032 247h1v1h-1zM178 248h6v1h-6zM197 248h1v1h-1zM967 248h1v1h-1zM1033 248h1v1h-1zM198 249h1v1h-1zM966 249h1v1h-1zM1033 249h1v1h-1zM199 250h1v1h-1zM964 250h2v1h-2zM1034 250h1v1h-1zM200 251h1v1h-1zM963 251h1v1h-1zM1035 251h1v1h-1zM201 252h1v1h-1zM961 252h2v1h-2zM1036 252h2v1h-2zM201 253h1v1h-1zM959 253h2v1h-2zM1038 253h1v1h-1zM202 254h1v1h-1zM957 254h2v1h-2zM1039 254h1v1h-1zM203 255h1v1h-1zM954 255h3v1h-3zM1040 255h2v1h-2zM204 256h1v1h-1zM950 256h4v1h-4zM1042 256h1v1h-1zM204 257h1v1h-1zM922 257h4v1h-4zM946 257h4v1h-4zM1043 257h2v1h-2zM205 258h1v1h-1zM920 258h2v1h-2zM926 258h4v1h-4zM942 258h4v1h-4zM1045 258h2v1h-2zM205 259h1v1h-1zM917 259h3v1h-3zM930 259h12v1h-12zM1047 259h2v1h-2zM206 260h1v1h-1zM915 260h2v1h-2zM1049 260h2v1h-2zM207 261h1v1h-1zM913 261h2v1h-2zM1051 261h2v1h-2zM207 262h1v1h-1zM911 262h2v1h-2zM1053 262h3v1h-3zM208 263h1v1h-1zM909 263h2v1h-2zM1056 263h2v1h-2zM209 264h1v1h-1zM907 264h2v1h-2zM1058 264h22v1h-22zM209 265h1v1h-1zM905 265h2v1h-2zM1080 265h8v1h-8zM210 266h1v1h-1zM904 266h1v1h-1zM1088 266h5v1h-5zM210 267h1v1h-1zM902 267h2v1h-2zM1093 267h2v1h-2zM211 268h1v1h-1zM900 268h2v1h-2zM1095 268h2v1h-2zM212 269h1v1h-1zM899 269h1v1h-1zM1097 269h2v1h-2zM212 270h1v1h-1zM897 270h2v1h-2zM1099 270h1v1h-1zM213 271h1v1h-1zM896 271h1v1h-1zM1100 271h2v1h-2zM214 272h1v1h-1zM843 272h19v1h-19zM874 272h3v1h-3zM894 272h2v1h-2zM1102 272h1v1h-1zM214 273h1v1h-1zM841 273h2v1h-2zM862 273h4v1h-4zM870 273h4v1h-4zM877 273h3v1h-3zM892 273h2v1h-2zM1103 273h1v1h-1zM215 274h1v1h-1zM839 274h2v1h-2zM866 274h4v1h-4zM880 274h2v1h-2zM888 274h4v1h-4zM1104 274h2v1h-2zM216 275h1v1h-1zM837 275h2v1h-2zM882 275h6v1h-6zM1106 275h1v1h-1zM216 276h1v1h-1zM835 276h2v1h-2zM1107 276h1v1h-1zM217 277h1v1h-1zM834 277h1v1h-1zM1108 277h1v1h-1zM218 278h1v1h-1zM833 278h1v1h-1zM1109 278h1v1h-1zM218 279h1v1h-1zM832 279h1v1h-1zM1110 279h1v1h-1zM219 280h1v1h-1zM831 280h1v1h-1zM1111 280h1v1h-1zM220 281h1v1h-1zM831 281h1v1h-1zM1112 281h1v1h-1zM221 282h1v1h-1zM830 282h1v1h-1zM1113 282h1v1h-1zM221 283h1v1h-1zM829 283h1v1h-1zM1114 283h1v1h-1zM222 284h1v1h-1zM828 284h1v1h-1zM1115 284h1v1h-1zM223 285h1v1h-1zM827 285h1v1h-1zM224 286h1v1h-1zM825 286h2v1h-2zM225 287h1v1h-1zM823 287h2v1h-2zM225 288h1v1h-1zM821 288h2v1h-2zM226 289h1v1h-1zM819 289h2v1h-2zM227 290h1v1h-1zM817 290h2v1h-2zM228 291h1v1h-1zM816 291h1v1h-1zM228 292h1v1h-1zM814 292h2v1h-2zM229 293h1v1h-1zM812 293h2v1h-2zM230 294h1v1h-1zM810 294h2v1h-2zM231 295h1v1h-1zM808 295h2v1h-2zM231 296h1v1h-1zM805 296h3v1h-3zM232 297h1v1h-1zM802 297h3v1h-3zM233 298h1v1h-1zM798 298h4v1h-4zM234 299h1v1h-1zM792 299h6v1h-6zM234 300h1v1h-1zM787 300h5v1h-5zM235 301h1v1h-1zM786 301h1v1h-1zM236 302h1v1h-1zM784 302h2v1h-2zM237 303h1v1h-1zM783 303h1v1h-1zM238 304h1v1h-1zM782 304h1v1h-1zM239 305h1v1h-1zM780 305h2v1h-2zM239 306h1v1h-1zM779 306h1v1h-1zM240 307h1v1h-1zM778 307h1v1h-1zM241 308h1v1h-1zM777 308h1v1h-1zM242 309h1v1h-1zM379 309h11v1h-11zM776 309h1v1h-1zM243 310h1v1h-1zM378 310h1v1h-1zM390 310h4v1h-4zM490 310h3v1h-3zM775 310h1v1h-1zM244 311h1v1h-1zM377 311h1v1h-1zM394 311h4v1h-4zM486 311h4v1h-4zM493 311h2v1h-2zM774 311h1v1h-1zM244 312h1v1h-1zM376 312h1v1h-1zM398 312h4v1h-4zM483 312h3v1h-3zM495 312h2v1h-2zM773 312h1v1h-1zM245 313h1v1h-1zM374 313h2v1h-2zM402 313h4v1h-4zM482 313h1v1h-1zM497 313h2v1h-2zM772 313h1v1h-1zM246 314h1v1h-1zM373 314h1v1h-1zM406 314h4v1h-4zM481 314h1v1h-1zM499 314h9v1h-9zM771 314h1v1h-1zM247 315h1v1h-1zM372 315h1v1h-1zM410 315h2v1h-2zM480 315h1v1h-1zM508 315h1v1h-1zM770 315h1v1h-1zM247 316h1v1h-1zM371 316h1v1h-1zM412 316h2v1h-2zM478 316h2v1h-2zM509 316h1v1h-1zM769 316h1v1h-1zM248 317h1v1h-1zM370 317h1v1h-1zM414 317h1v1h-1zM477 317h1v1h-1zM509 317h1v1h-1zM769 317h1v1h-1zM249 318h1v1h-1zM369 318h1v1h-1zM415 318h1v1h-1zM476 318h1v1h-1zM510 318h1v1h-1zM768 318h1v1h-1zM250 319h1v1h-1zM368 319h1v1h-1zM416 319h2v1h-2zM475 319h1v1h-1zM511 319h1v1h-1zM767 319h1v1h-1zM250 320h1v1h-1zM366 320h2v1h-2zM418 320h1v1h-1zM473 320h2v1h-2zM512 320h1v1h-1zM766 320h1v1h-1zM251 321h1v1h-1zM365 321h1v1h-1zM419 321h1v1h-1zM472 321h1v1h-1zM513 321h1v1h-1zM765 321h1v1h-1zM251 322h1v1h-1zM364 322h1v1h-1zM420 322h2v1h-2zM470 322h2v1h-2zM513 322h1v1h-1zM765 322h1v1h-1zM252 323h1v1h-1zM363 323h1v1h-1zM422 323h2v1h-2zM468 323h2v1h-2zM514 323h1v1h-1zM764 323h1v1h-1zM252 324h1v1h-1zM361 324h2v1h-2zM424 324h1v1h-1zM467 324h1v1h-1zM515 324h2v1h-2zM763 324h1v1h-1zM253 325h1v1h-1zM360 325h1v1h-1zM425 325h2v1h-2zM465 325h2v1h-2zM517 325h2v1h-2zM762 325h1v1h-1zM253 326h1v1h-1zM358 326h2v1h-2zM427 326h1v1h-1zM464 326h1v1h-1zM519 326h2v1h-2zM762 326h1v1h-1zM254 327h1v1h-1zM356 327h2v1h-2zM428 327h1v1h-1zM462 327h2v1h-2zM521 327h2v1h-2zM761 327h1v1h-1zM254 328h1v1h-1zM355 328h1v1h-1zM429 328h1v1h-1zM460 328h2v1h-2zM523 328h1v1h-1zM761 328h1v1h-1zM254 329h1v1h-1zM353 329h2v1h-2zM430 329h1v1h-1zM458 329h2v1h-2zM524 329h2v1h-2zM760 329h1v1h-1zM255 330h1v1h-1zM351 330h2v1h-2zM431 330h1v1h-1zM454 330h4v1h-4zM526 330h1v1h-1zM760 330h1v1h-1zM255 331h1v1h-1zM349 331h2v1h-2zM432 331h1v1h-1zM451 331h3v1h-3zM527 331h1v1h-1zM759 331h1v1h-1zM256 332h1v1h-1zM347 332h2v1h-2zM433 332h1v1h-1zM449 332h2v1h-2zM528 332h2v1h-2zM758 332h1v1h-1zM256 333h1v1h-1zM346 333h1v1h-1zM434 333h1v1h-1zM448 333h1v1h-1zM530 333h1v1h-1zM758 333h1v1h-1zM256 334h1v1h-1zM345 334h1v1h-1zM435 334h3v1h-3zM446 334h2v1h-2zM531 334h1v1h-1zM757 334h1v1h-1zM257 335h1v1h-1zM345 335h1v1h-1zM438 335h4v1h-4zM444 335h2v1h-2zM532 335h1v1h-1zM757 335h1v1h-1zM257 336h1v1h-1zM344 336h1v1h-1zM442 336h2v1h-2zM533 336h1v1h-1zM756 336h1v1h-1zM258 337h1v1h-1zM343 337h1v1h-1zM534 337h1v1h-1zM756 337h1v1h-1zM258 338h1v1h-1zM342 338h1v1h-1zM535 338h1v1h-1zM755 338h1v1h-1zM259 339h1v1h-1zM341 339h1v1h-1zM536 339h1v1h-1zM754 339h1v1h-1zM259 340h1v1h-1zM341 340h1v1h-1zM537 340h1v1h-1zM754 340h1v1h-1zM260 341h1v1h-1zM340 341h1v1h-1zM538 341h1v1h-1zM753 341h1v1h-1zM260 342h1v1h-1zM339 342h1v1h-1zM539 342h1v1h-1zM753 342h1v1h-1zM261 343h1v1h-1zM338 343h1v1h-1zM540 343h1v1h-1zM752 343h1v1h-1zM262 344h1v1h-1zM338 344h1v1h-1zM541 344h1v1h-1zM752 344h1v1h-1zM263 345h1v1h-1zM337 345h1v1h-1zM541 345h1v1h-1zM751 345h1v1h-1zM263 346h1v1h-1zM337 346h1v1h-1zM542 346h1v1h-1zM751 346h1v1h-1zM264 347h1v1h-1zM336 347h1v1h-1zM543 347h1v1h-1zM750 347h1v1h-1zM265 348h1v1h-1zM336 348h1v1h-1zM544 348h1v1h-1zM750 348h1v1h-1zM266 349h1v1h-1zM335 349h1v1h-1zM545 349h1v1h-1zM749 349h1v1h-1zM266 350h1v1h-1zM334 350h1v1h-1zM545 350h1v1h-1zM749 350h1v1h-1zM267 351h1v1h-1zM334 351h1v1h-1zM546 351h1v1h-1zM748 351h1v1h-1zM268 352h1v1h-1zM333 352h1v1h-1zM547 352h1v1h-1zM748 352h1v1h-1zM269 353h1v1h-1zM333 353h1v1h-1zM547 353h1v1h-1zM747 353h1v1h-1zM270 354h1v1h-1zM332 354h1v1h-1zM548 354h1v1h-1zM746 354h2v1h-2zM271 355h1v1h-1zM332 355h1v1h-1zM548 355h1v1h-1zM744 355h2v1h-2zM271 356h1v1h-1zM331 356h1v1h-1zM549 356h1v1h-1zM741 356h3v1h-3zM272 357h1v1h-1zM330 357h1v1h-1zM549 357h1v1h-1zM738 357h3v1h-3zM273 358h1v1h-1zM330 358h1v1h-1zM550 358h1v1h-1zM736 358h2v1h-2zM274 359h1v1h-1zM329 359h1v1h-1zM550 359h1v1h-1zM733 359h3v1h-3zM275 360h1v1h-1zM329 360h1v1h-1zM551 360h1v1h-1zM731 360h2v1h-2zM276 361h1v1h-1zM328 361h1v1h-1zM551 361h1v1h-1zM730 361h1v1h-1zM276 362h1v1h-1zM328 362h1v1h-1zM552 362h1v1h-1zM729 362h1v1h-1zM277 363h1v1h-1zM327 363h1v1h-1zM552 363h1v1h-1zM728 363h1v1h-1zM278 364h1v1h-1zM327 364h1v1h-1zM553 364h1v1h-1zM727 364h1v1h-1zM279 365h1v1h-1zM326 365h1v1h-1zM553 365h1v1h-1zM726 365h1v1h-1zM279 366h1v1h-1zM326 366h1v1h-1zM554 366h1v1h-1zM725 366h1v1h-1zM280 367h1v1h-1zM325 367h1v1h-1zM554 367h1v1h-1zM724 367h1v1h-1zM281 368h1v1h-1zM325 368h1v1h-1zM555 368h1v1h-1zM715 368h9v1h-9zM282 369h1v1h-1zM324 369h1v1h-1zM555 369h1v1h-1zM713 369h2v1h-2zM282 370h1v1h-1zM324 370h1v1h-1zM555 370h1v1h-1zM711 370h2v1h-2zM283 371h1v1h-1zM323 371h1v1h-1zM556 371h1v1h-1zM709 371h2v1h-2zM284 372h1v1h-1zM323 372h1v1h-1zM556 372h1v1h-1zM707 372h2v1h-2zM284 373h1v1h-1zM322 373h1v1h-1zM557 373h1v1h-1zM706 373h1v1h-1zM285 374h1v1h-1zM322 374h1v1h-1zM557 374h1v1h-1zM705 374h1v1h-1zM286 375h1v1h-1zM321 375h1v1h-1zM557 375h1v1h-1zM704 375h1v1h-1zM287 376h1v1h-1zM321 376h1v1h-1zM558 376h1v1h-1zM703 376h1v1h-1zM287 377h1v1h-1zM320 377h1v1h-1zM558 377h1v1h-1zM702 377h1v1h-1zM288 378h1v1h-1zM320 378h1v1h-1zM559 378h1v1h-1zM701 378h1v1h-1zM289 379h1v1h-1zM319 379h1v1h-1zM559 379h1v1h-1zM700 379h1v1h-1zM290 380h1v1h-1zM318 380h1v1h-1zM559 380h1v1h-1zM699 380h1v1h-1zM290 381h1v1h-1zM318 381h1v1h-1zM560 381h1v1h-1zM698 381h1v1h-1zM291 382h1v1h-1zM317 382h1v1h-1zM560 382h1v1h-1zM698 382h1v1h-1zM292 383h1v1h-1zM317 383h1v1h-1zM561 383h1v1h-1zM697 383h1v1h-1zM293 384h1v1h-1zM316 384h1v1h-1zM561 384h1v1h-1zM697 384h1v1h-1zM293 385h1v1h-1zM316 385h1v1h-1zM561 385h1v1h-1zM696 385h1v1h-1zM294 386h1v1h-1zM315 386h1v1h-1zM562 386h1v1h-1zM696 386h1v1h-1zM295 387h1v1h-1zM314 387h1v1h-1zM562 387h1v1h-1zM695 387h1v1h-1zM296 388h1v1h-1zM313 388h1v1h-1zM563 388h1v1h-1zM694 388h1v1h-1zM297 389h1v1h-1zM312 389h1v1h-1zM563 389h1v1h-1zM694 389h1v1h-1zM297 390h1v1h-1zM310 390h2v1h-2zM564 390h1v1h-1zM693 390h1v1h-1zM298 391h1v1h-1zM309 391h1v1h-1zM564 391h1v1h-1zM693 391h1v1h-1zM299 392h5v1h-5zM308 392h1v1h-1zM565 392h1v1h-1zM692 392h1v1h-1zM304 393h4v1h-4zM566 393h1v1h-1zM692 393h1v1h-1zM566 394h1v1h-1zM691 394h1v1h-1zM567 395h1v1h-1zM690 395h1v1h-1zM568 396h1v1h-1zM690 396h1v1h-1zM568 397h1v1h-1zM689 397h1v1h-1zM569 398h1v1h-1zM688 398h1v1h-1zM570 399h1v1h-1zM688 399h1v1h-1zM570 400h1v1h-1zM687 400h1v1h-1zM571 401h1v1h-1zM686 401h1v1h-1zM572 402h1v1h-1zM686 402h1v1h-1zM572 403h1v1h-1zM685 403h1v1h-1zM573 404h1v1h-1zM684 404h1v1h-1zM573 405h1v1h-1zM684 405h1v1h-1zM574 406h1v1h-1zM683 406h1v1h-1zM574 407h1v1h-1zM682 407h1v1h-1zM575 408h1v1h-1zM681 408h1v1h-1zM575 409h1v1h-1zM681 409h1v1h-1zM576 410h1v1h-1zM680 410h1v1h-1zM576 411h1v1h-1zM679 411h1v1h-1zM577 412h1v1h-1zM678 412h1v1h-1zM577 413h1v1h-1zM677 413h1v1h-1zM578 414h1v1h-1zM677 414h1v1h-1zM578 415h1v1h-1zM676 415h1v1h-1zM579 416h1v1h-1zM675 416h1v1h-1zM580 417h1v1h-1zM674 417h1v1h-1zM580 418h1v1h-1zM673 418h1v1h-1zM581 419h1v1h-1zM672 419h1v1h-1zM582 420h1v1h-1zM671 420h1v1h-1zM582 421h1v1h-1zM670 421h1v1h-1zM583 422h1v1h-1zM669 422h1v1h-1zM584 423h1v1h-1zM668 423h1v1h-1zM584 424h1v1h-1zM667 424h1v1h-1zM585 425h1v1h-1zM666 425h1v1h-1zM586 426h1v1h-1zM665 426h1v1h-1zM586 427h1v1h-1zM664 427h1v1h-1zM587 428h1v1h-1zM662 428h2v1h-2zM588 429h1v1h-1zM661 429h1v1h-1zM589 430h1v1h-1zM660 430h1v1h-1zM589 431h1v1h-1zM659 431h1v1h-1zM590 432h1v1h-1zM658 432h1v1h-1zM591 433h1v1h-1zM656 433h2v1h-2zM592 434h1v1h-1zM655 434h1v1h-1zM593 435h1v1h-1zM635 435h5v1h-5zM654 435h1v1h-1zM593 436h1v1h-1zM634 436h1v1h-1zM640 436h8v1h-8zM652 436h2v1h-2zM594 437h1v1h-1zM633 437h1v1h-1zM648 437h4v1h-4zM595 438h1v1h-1zM632 438h1v1h-1zM596 439h1v1h-1zM630 439h2v1h-2zM597 440h1v1h-1zM629 440h1v1h-1zM598 441h1v1h-1zM628 441h1v1h-1zM599 442h1v1h-1zM627 442h1v1h-1zM600 443h1v1h-1zM626 443h1v1h-1zM601 444h1v1h-1zM625 444h1v1h-1zM602 445h1v1h-1zM624 445h1v1h-1zM603 446h3v1h-3zM623 446h1v1h-1zM606 447h4v1h-4zM623 447h1v1h-1zM610 448h3v1h-3zM622 448h1v1h-1zM613 449h3v1h-3zM621 449h1v1h-1zM616 450h2v1h-2zM620 450h1v1h-1zM618 451h2v1h-2z" fill="#ff0000"/>
<path d="M27 110h1v1h-1zM28 111h1v1h-1zM29 112h1v1h-1zM30 113h1v1h-1zM31 114h1v1h-1zM31 115h1v1h-1zM32 116h1v1h-1zM33 117h1v1h-1zM34 118h1v1h-1zM35 119h2v1h-2zM37 120h3v1h-3zM40 121h2v1h-2zM42 122h3v1h-3zM45 123h2v1h-2zM47 124h2v1h-2zM49 125h2v1h-2zM51 126h2v1h-2zM53 127h2v1h-2zM55 128h2v1h-2zM57 129h2v1h-2zM59 130h3v1h-3zM62 131h4v1h-4zM66 132h3v1h-3zM69 133h3v1h-3zM72 134h2v1h-2zM74 135h2v1h-2zM76 136h1v1h-1zM76 137h1v1h-1zM77 138h1v1h-1zM77 139h1v1h-1zM78 140h1v1h-1zM78 141h1v1h-1zM79 142h1v1h-1zM80 143h1v1h-1zM80 144h1v1h-1zM81 145h1v1h-1zM81 146h1v1h-1zM82 147h1v1h-1zM82 148h1v1h-1zM83 149h1v1h-1zM83 150h1v1h-1zM84 151h1v1h-1zM84 152h1v1h-1zM85 153h1v1h-1zM85 154h1v1h-1zM86 155h1v1h-1zM86 156h1v1h-1zM86 157h1v1h-1zM87 158h1v1h-1zM87 159h1v1h-1zM88 160h1v1h-1zM88 161h1v1h-1zM88 162h1v1h-1zM89 163h1v1h-1zM89 164h1v1h-1zM90 165h1v1h-1zM90 166h1v1h-1zM91 167h1v1h-1zM91 168h1v1h-1zM91 169h1v1h-1zM92 170h1v1h-1zM92 171h1v1h-1zM93 172h1v1h-1zM93 173h1v1h-1zM94 174h1v1h-1zM94 175h1v1h-1zM95 176h1v1h-1zM95 177h1v1h-1zM95 178h1v1h-1zM96 179h1v1h-1zM96 180h1v1h-1zM97 181h1v1h-1zM97 182h1v1h-1zM98 183h1v1h-1zM98 184h1v1h-1zM99 185h1v1h-1zM99 186h1v1h-1zM99 187h1v1h-1zM100 188h1v1h-1zM100 189h1v1h-1zM100 190h1v1h-1zM101 191h1v1h-1zM101 192h1v1h-1zM101 193h1v1h-1zM101 194h1v1h-1zM102 195h1v1h-1zM102 196h1v1h-1zM102 197h1v1h-1zM103 198h1v1h-1zM103 199h1v1h-1zM103 200h1v1h-1zM104 201h1v1h-1zM104 202h1v1h-1zM104 203h1v1h-1zM105 204h1v1h-1zM105 205h1v1h-1zM105 206h1v1h-1zM105 207h1v1h-1zM106 208h1v1h-1zM106 209h1v1h-1zM106 210h1v1h-1zM107 211h1v1h-1zM107 212h1v1h-1zM107 213h1v1h-1zM107 214h1v1h-1zM187 214h9v1h-9zM108 215h1v1h-1zM186 215h1v1h-1zM195 215h1v1h-1zM108 216h1v1h-1zM186 216h1v1h-1zM196 216h1v1h-1zM108 217h1v1h-1zM185 217h1v1h-1zM196 217h1v1h-1zM108 218h1v1h-1zM185 218h1v1h-1zM197 218h1v1h-1zM109 219h1v1h-1zM184 219h1v1h-1zM197 219h1v1h-1zM1010 219h2v1h-2zM109 220h1v1h-1zM184 220h1v1h-1zM198 220h1v1h-1zM1006 220h4v1h-4zM1012 220h1v1h-1zM109 221h1v1h-1zM183 221h1v1h-1zM198 221h1v1h-1zM1003 221h3v1h-3zM1013 221h1v1h-1zM109 222h1v1h-1zM183 222h1v1h-1zM199 222h1v1h-1zM1001 222h2v1h-2zM1013 222h1v1h-1zM109 223h1v1h-1zM182 223h1v1h-1zM199 223h1v1h-1zM1000 223h1v1h-1zM1014 223h1v1h-1zM110 224h1v1h-1zM182 224h1v1h-1zM199 224h1v1h-1zM998 224h2v1h-2zM1015 224h1v1h-1zM110 225h1v1h-1zM181 225h1v1h-1zM200 225h1v1h-1zM996 225h2v1h-2zM1016 225h1v1h-1zM110 226h1v1h-1zM181 226h1v1h-1zM200 226h1v1h-1zM995 226h1v1h-1zM1017 226h1v1h-1zM110 227h1v1h-1zM180 227h1v1h-1zM201 227h1v1h-1zM994 227h1v1h-1zM1017 227h1v1h-1zM111 228h1v1h-1zM180 228h1v1h-1zM201 228h1v1h-1zM993 228h1v1h-1zM1018 228h1v1h-1zM111 229h1v1h-1zM179 229h1v1h-1zM202 229h1v1h-1zM947 229h1v1h-1zM992 229h1v1h-1zM1019 229h1v1h-1zM111 230h1v1h-1zM179 230h1v1h-1zM202 230h1v1h-1zM945 230h2v1h-2zM948 230h1v1h-1zM991 230h1v1h-1zM1020 230h1v1h-1zM111 231h1v1h-1zM178 231h1v1h-1zM203 231h1v1h-1zM944 231h1v1h-1zM949 231h1v1h-1zM990 231h1v1h-1zM1020 231h1v1h-1zM111 232h1v1h-1zM178 232h1v1h-1zM203 232h1v1h-1zM942 232h2v1h-2zM950 232h2v1h-2zM989 232h1v1h-1zM1021 232h1v1h-1zM112 233h1v1h-1zM177 233h1v1h-1zM203 233h1v1h-1zM940 233h2v1h-2zM952 233h1v1h-1zM988 233h1v1h-1zM1021 233h1v1h-1zM112 234h1v1h-1zM177 234h1v1h-1zM204 234h1v1h-1zM939 234h1v1h-1zM953 234h1v1h-1zM987 234h1v1h-1zM1022 234h1v1h-1zM112 235h1v1h-1zM176 235h1v1h-1zM204 235h1v1h-1zM937 235h2v1h-2zM954 235h1v1h-1zM960 235h8v1h-8zM985 235h2v1h-2zM1022 235h1v1h-1zM112 236h1v1h-1zM176 236h1v1h-1zM204 236h1v1h-1zM936 236h1v1h-1zM955 236h5v1h-5zM968 236h5v1h-5zM984 236h1v1h-1zM1023 236h1v1h-1zM113 237h1v1h-1zM175 237h1v1h-1zM204 237h1v1h-1zM934 237h2v1h-2zM973 237h3v1h-3zM982 237h2v1h-2zM1023 237h1v1h-1zM113 238h1v1h-1zM175 238h1v1h-1zM205 238h1v1h-1zM932 238h2v1h-2zM976 238h2v1h-2zM980 238h2v1h-2zM1024 238h1v1h-1zM113 239h1v1h-1zM174 239h1v1h-1zM205 239h1v1h-1zM931 239h1v1h-1zM978 239h2v1h-2zM1024 239h1v1h-1zM113 240h1v1h-1zM174 240h1v1h-1zM205 240h1v1h-1zM929 240h2v1h-2zM1025 240h1v1h-1zM113 241h1v1h-1zM173 241h1v1h-1zM206 241h1v1h-1zM927 241h2v1h-2zM1025 241h1v1h-1zM114 242h1v1h-1zM173 242h1v1h-1zM206 242h1v1h-1zM925 242h2v1h-2zM1026 242h1v1h-1zM114 243h1v1h-1zM172 243h1v1h-1zM206 243h1v1h-1zM923 243h2v1h-2zM1026 243h1v1h-1zM114 244h1v1h-1zM172 244h1v1h-1zM206 244h1v1h-1zM922 244h1v1h-1zM1027 244h1v1h-1zM114 245h1v1h-1zM171 245h1v1h-1zM207 245h1v1h-1zM922 245h1v1h-1zM1027 245h1v1h-1zM115 246h1v1h-1zM171 246h1v1h-1zM207 246h1v1h-1zM921 246h1v1h-1zM1028 246h1v1h-1zM115 247h1v1h-1zM170 247h1v1h-1zM207 247h1v1h-1zM920 247h1v1h-1zM1028 247h1v1h-1zM115 248h1v1h-1zM170 248h1v1h-1zM208 248h1v1h-1zM920 248h1v1h-1zM1029 248h1v1h-1zM116 249h1v1h-1zM169 249h1v1h-1zM208 249h1v1h-1zM919 249h1v1h-1zM1029 249h1v1h-1zM116 250h1v1h-1zM169 250h1v1h-1zM208 250h1v1h-1zM918 250h1v1h-1zM1030 250h1v1h-1zM117 251h1v1h-1zM168 251h1v1h-1zM208 251h1v1h-1zM918 251h1v1h-1zM1030 251h1v1h-1zM117 252h1v1h-1zM168 252h1v1h-1zM209 252h1v1h-1zM917 252h1v1h-1zM1031 252h1v1h-1zM118 253h1v1h-1zM167 253h1v1h-1zM209 253h1v1h-1zM916 253h1v1h-1zM1031 253h1v1h-1zM118 254h1v1h-1zM167 254h1v1h-1zM209 254h1v1h-1zM916 254h1v1h-1zM1031 254h1v1h-1zM119 255h1v1h-1zM166 255h1v1h-1zM210 255h1v1h-1zM915 255h1v1h-1zM1032 255h1v1h-1zM120 256h1v1h-1zM166 256h1v1h-1zM210 256h1v1h-1zM914 256h1v1h-1zM1032 256h1v1h-1zM120 257h1v1h-1zM165 257h1v1h-1zM210 257h1v1h-1zM914 257h1v1h-1zM1033 257h1v1h-1zM1099 257h3v1h-3zM121 258h1v1h-1zM165 258h1v1h-1zM210 258h1v1h-1zM913 258h1v1h-1zM1033 258h1v1h-1zM1098 258h1v1h-1zM1102 258h4v1h-4zM121 259h1v1h-1zM164 259h1v1h-1zM211 259h1v1h-1zM912 259h1v1h-1zM1034 259h1v1h-1zM1098 259h1v1h-1zM1106 259h3v1h-3zM122 260h1v1h-1zM164 260h1v1h-1zM211 260h1v1h-1zM851 260h1v1h-1zM912 260h1v1h-1zM1034 260h1v1h-1zM1097 260h1v1h-1zM1109 260h2v1h-2zM122 261h1v1h-1zM163 261h1v1h-1zM211 261h1v1h-1zM849 261h2v1h-2zM852 261h1v1h-1zM911 261h1v1h-1zM1035 261h1v1h-1zM1096 261h1v1h-1zM1111 261h2v1h-2zM123 262h1v1h-1zM163 262h1v1h-1zM211 262h1v1h-1zM847 262h2v1h-2zM852 262h1v1h-1zM910 262h1v1h-1zM1035 262h1v1h-1zM1096 262h1v1h-1zM1113 262h2v1h-2zM123 263h1v1h-1zM162 263h1v1h-1zM212 263h1v1h-1zM845 263h2v1h-2zM853 263h1v1h-1zM910 263h1v1h-1zM1035 263h1v1h-1zM1095 263h1v1h-1zM1115 263h1v1h-1zM124 264h1v1h-1zM162 264h1v1h-1zM212 264h1v1h-1zM840 264h5v1h-5zM854 264h1v1h-1zM909 264h1v1h-1zM1036 264h1v1h-1zM1094 264h1v1h-1zM124 265h1v1h-1zM161 265h1v1h-1zM212 265h1v1h-1zM819 265h3v1h-3zM834 265h6v1h-6zM855 265h1v1h-1zM908 265h1v1h-1zM1036 265h1v1h-1zM1094 265h1v1h-1zM125 266h1v1h-1zM161 266h1v1h-1zM212 266h1v1h-1zM491 266h1v1h-1zM818 266h1v1h-1zM822 266h4v1h-4zM830 266h4v1h-4zM855 266h1v1h-1zM908 266h1v1h-1zM1037 266h1v1h-1zM1093 266h1v1h-1zM125 267h1v1h-1zM160 267h1v1h-1zM212 267h1v1h-1zM490 267h1v1h-1zM492 267h1v1h-1zM817 267h1v1h-1zM826 267h4v1h-4zM856 267h1v1h-1zM907 267h1v1h-1zM1037 267h1v1h-1zM1092 267h1v1h-1zM126 268h1v1h-1zM160 268h1v1h-1zM213 268h1v1h-1zM489 268h1v1h-1zM492 268h1v1h-1zM816 268h1v1h-1zM857 268h1v1h-1zM906 268h1v1h-1zM1038 268h1v1h-1zM1092 268h1v1h-1zM126 269h1v1h-1zM159 269h1v1h-1zM213 269h1v1h-1zM488 269h1v1h-1zM493 269h1v1h-1zM815 269h1v1h-1zM858 269h1v1h-1zM905 269h1v1h-1zM1038 269h1v1h-1zM1091 269h1v1h-1zM127 270h1v1h-1zM158 270h1v1h-1zM213 270h1v1h-1zM487 270h1v1h-1zM493 270h1v1h-1zM815 270h1v1h-1zM858 270h1v1h-1zM904 270h1v1h-1zM1038 270h1v1h-1zM1090 270h1v1h-1zM127 271h1v1h-1zM158 271h1v1h-1zM213 271h1v1h-1zM487 271h1v1h-1zM494 271h1v1h-1zM814 271h1v1h-1zM859 271h2v1h-2zM902 271h2v1h-2zM1039 271h1v1h-1zM1090 271h1v1h-1zM128 272h1v1h-1zM157 272h1v1h-1zM214 272h1v1h-1zM486 272h1v1h-1zM495 272h1v1h-1zM813 272h1v1h-1zM861 272h3v1h-3zM901 272h1v1h-1zM1039 272h1v1h-1zM1089 272h1v1h-1zM128 273h1v1h-1zM157 273h1v1h-1zM214 273h1v1h-1zM485 273h1v1h-1zM495 273h1v1h-1zM812 273h1v1h-1zM864 273h2v1h-2zM900 273h1v1h-1zM1040 273h1v1h-1zM1089 273h1v1h-1zM129 274h1v1h-1zM156 274h1v1h-1zM214 274h1v1h-1zM484 274h1v1h-1zM496 274h1v1h-1zM803 274h9v1h-9zM866 274h2v1h-2zM899 274h1v1h-1zM1040 274h1v1h-1zM1088 274h1v1h-1zM129 275h1v1h-1zM156 275h1v1h-1zM214 275h1v1h-1zM483 275h1v1h-1zM497 275h1v1h-1zM802 275h1v1h-1zM868 275h2v1h-2zM898 275h1v1h-1zM1040 275h1v1h-1zM1088 275h1v1h-1zM130 276h1v1h-1zM146 276h10v1h-10zM214 276h1v1h-1zM482 276h1v1h-1zM497 276h1v1h-1zM801 276h1v1h-1zM870 276h2v1h-2zM897 276h1v1h-1zM1041 276h1v1h-1zM1087 276h1v1h-1zM130 277h1v1h-1zM144 277h2v1h-2zM215 277h1v1h-1zM482 277h1v1h-1zM498 277h1v1h-1zM800 277h1v1h-1zM872 277h1v1h-1zM896 277h1v1h-1zM1041 277h1v1h-1zM1087 277h1v1h-1zM131 278h1v1h-1zM141 278h3v1h-3zM215 278h1v1h-1zM481 278h1v1h-1zM498 278h1v1h-1zM799 278h1v1h-1zM873 278h2v1h-2zM895 278h1v1h-1zM1042 278h1v1h-1zM1086 278h1v1h-1zM131 279h10v1h-10zM215 279h1v1h-1zM481 279h1v1h-1zM499 279h1v1h-1zM798 279h1v1h-1zM875 279h1v1h-1zM895 279h1v1h-1zM1042 279h1v1h-1zM1086 279h1v1h-1zM215 280h1v1h-1zM480 280h1v1h-1zM499 280h1v1h-1zM787 280h3v1h-3zM797 280h1v1h-1zM876 280h2v1h-2zM894 280h1v1h-1zM1043 280h1v1h-1zM1085 280h1v1h-1zM215 281h1v1h-1zM480 281h1v1h-1zM500 281h1v1h-1zM786 281h1v1h-1zM790 281h4v1h-4zM796 281h1v1h-1zM878 281h2v1h-2zM893 281h1v1h-1zM1043 281h1v1h-1zM1085 281h1v1h-1zM216 282h1v1h-1zM347 282h9v1h-9zM479 282h1v1h-1zM500 282h1v1h-1zM784 282h2v1h-2zM794 282h2v1h-2zM880 282h1v1h-1zM892 282h1v1h-1zM1044 282h1v1h-1zM1084 282h1v1h-1zM216 283h1v1h-1zM346 283h1v1h-1zM356 283h1v1h-1zM478 283h1v1h-1zM501 283h1v1h-1zM783 283h1v1h-1zM881 283h2v1h-2zM888 283h4v1h-4zM1044 283h1v1h-1zM1084 283h1v1h-1zM216 284h1v1h-1zM345 284h1v1h-1zM356 284h1v1h-1zM478 284h1v1h-1zM501 284h1v1h-1zM782 284h1v1h-1zM883 284h5v1h-5zM1045 284h1v1h-1zM1083 284h1v1h-1zM216 285h1v1h-1zM344 285h1v1h-1zM357 285h1v1h-1zM477 285h1v1h-1zM502 285h1v1h-1zM780 285h2v1h-2zM1045 285h1v1h-1zM1082 285h1v1h-1zM216 286h1v1h-1zM343 286h1v1h-1zM358 286h1v1h-1zM477 286h1v1h-1zM502 286h1v1h-1zM779 286h1v1h-1zM1046 286h1v1h-1zM1082 286h1v1h-1zM217 287h1v1h-1zM342 287h1v1h-1zM358 287h1v1h-1zM476 287h1v1h-1zM503 287h1v1h-1zM778 287h1v1h-1zM1046 287h1v1h-1zM1081 287h1v1h-1zM217 288h1v1h-1zM341 288h1v1h-1zM359 288h1v1h-1zM476 288h1v1h-1zM503 288h1v1h-1zM778 288h1v1h-1zM1047 288h1v1h-1zM1081 288h1v1h-1zM217 289h1v1h-1zM340 289h1v1h-1zM360 289h1v1h-1zM475 289h1v1h-1zM503 289h1v1h-1zM777 289h1v1h-1zM1048 289h1v1h-1zM1080 289h1v1h-1zM217 290h1v1h-1zM339 290h1v1h-1zM360 290h1v1h-1zM474 290h1v1h-1zM504 290h1v1h-1zM777 290h1v1h-1zM1048 290h1v1h-1zM1080 290h1v1h-1zM218 291h1v1h-1zM337 291h2v1h-2zM361 291h1v1h-1zM473 291h1v1h-1zM504 291h1v1h-1zM776 291h1v1h-1zM1049 291h1v1h-1zM1079 291h1v1h-1zM218 292h1v1h-1zM335 292h2v1h-2zM362 292h1v1h-1zM473 292h1v1h-1zM505 292h1v1h-1zM776 292h1v1h-1zM1049 292h1v1h-1zM1079 292h1v1h-1zM218 293h1v1h-1zM333 293h2v1h-2zM362 293h1v1h-1zM472 293h1v1h-1zM505 293h1v1h-1zM775 293h1v1h-1zM1050 293h1v1h-1zM1078 293h1v1h-1zM218 294h1v1h-1zM331 294h2v1h-2zM363 294h1v1h-1zM471 294h1v1h-1zM506 294h1v1h-1zM775 294h1v1h-1zM1050 294h1v1h-1zM1078 294h1v1h-1zM218 295h1v1h-1zM330 295h1v1h-1zM364 295h1v1h-1zM470 295h1v1h-1zM506 295h1v1h-1zM774 295h1v1h-1zM1051 295h1v1h-1zM1077 295h1v1h-1zM219 296h1v1h-1zM329 296h1v1h-1zM365 296h1v1h-1zM469 296h1v1h-1zM507 296h1v1h-1zM774 296h1v1h-1zM1052 296h1v1h-1zM1077 296h1v1h-1zM219 297h1v1h-1zM329 297h1v1h-1zM366 297h1v1h-1zM469 297h1v1h-1zM507 297h1v1h-1zM773 297h1v1h-1zM1052 297h1v1h-1zM1076 297h1v1h-1zM219 298h1v1h-1zM328 298h1v1h-1zM367 298h1v1h-1zM468 298h1v1h-1zM507 298h1v1h-1zM773 298h1v1h-1zM1053 298h1v1h-1zM1076 298h1v1h-1zM219 299h1v1h-1zM327 299h1v1h-1zM368 299h1v1h-1zM467 299h1v1h-1zM507 299h1v1h-1zM772 299h1v1h-1zM1054 299h1v1h-1zM1075 299h1v1h-1zM219 300h1v1h-1zM326 300h1v1h-1zM369 300h1v1h-1zM466 300h1v1h-1zM508 300h1v1h-1zM772 300h1v1h-1zM1054 300h1v1h-1zM1075 300h1v1h-1zM220 301h1v1h-1zM325 301h1v1h-1zM370 301h1v1h-1zM466 301h1v1h-1zM508 301h1v1h-1zM771 301h1v1h-1zM1055 301h1v1h-1zM1074 301h1v1h-1zM220 302h1v1h-1zM325 302h1v1h-1zM371 302h1v1h-1zM465 302h1v1h-1zM508 302h1v1h-1zM771 302h1v1h-1zM1056 302h1v1h-1zM1073 302h1v1h-1zM220 303h1v1h-1zM324 303h1v1h-1zM372 303h1v1h-1zM465 303h1v1h-1zM508 303h1v1h-1zM770 303h1v1h-1zM1056 303h1v1h-1zM1073 303h1v1h-1zM220 304h1v1h-1zM323 304h1v1h-1zM373 304h1v1h-1zM464 304h1v1h-1zM509 304h1v1h-1zM770 304h1v1h-1zM1057 304h1v1h-1zM1072 304h1v1h-1zM221 305h1v1h-1zM323 305h1v1h-1zM373 305h1v1h-1zM463 305h1v1h-1zM509 305h1v1h-1zM769 305h1v1h-1zM1058 305h1v1h-1zM1071 305h1v1h-1zM221 306h1v1h-1zM322 306h1v1h-1zM374 306h1v1h-1zM463 306h1v1h-1zM509 306h1v1h-1zM768 306h1v1h-1zM1058 306h1v1h-1zM1070 306h1v1h-1zM221 307h1v1h-1zM322 307h1v1h-1zM375 307h1v1h-1zM462 307h1v1h-1zM509 307h1v1h-1zM768 307h1v1h-1zM1059 307h2v1h-2zM1069 307h1v1h-1zM221 308h1v1h-1zM321 308h1v1h-1zM376 308h1v1h-1zM461 308h1v1h-1zM510 308h1v1h-1zM767 308h1v1h-1zM1061 308h3v1h-3zM1069 308h1v1h-1zM222 309h1v1h-1zM321 309h1v1h-1zM377 309h1v1h-1zM461 309h1v1h-1zM510 309h1v1h-1zM766 309h1v1h-1zM1064 309h2v1h-2zM1068 309h1v1h-1zM222 310h1v1h-1zM320 310h1v1h-1zM377 310h1v1h-1zM460 310h1v1h-1zM510 310h1v1h-1zM766 310h1v1h-1zM1066 310h2v1h-2zM222 311h1v1h-1zM320 311h1v1h-1zM378 311h1v1h-1zM460 311h1v1h-1zM510 311h1v1h-1zM765 311h1v1h-1zM222 312h1v1h-1zM319 312h1v1h-1zM379 312h1v1h-1zM459 312h1v1h-1zM511 312h1v1h-1zM764 312h1v1h-1zM223 313h1v1h-1zM319 313h1v1h-1zM380 313h1v1h-1zM458 313h1v1h-1zM511 313h1v1h-1zM764 313h1v1h-1zM223 314h1v1h-1zM318 314h1v1h-1zM380 314h1v1h-1zM458 314h1v1h-1zM511 314h1v1h-1zM760 314h4v1h-4zM223 315h1v1h-1zM318 315h1v1h-1zM381 315h1v1h-1zM457 315h1v1h-1zM511 315h1v1h-1zM755 315h5v1h-5zM223 316h1v1h-1zM317 316h1v1h-1zM381 316h1v1h-1zM457 316h1v1h-1zM512 316h1v1h-1zM753 316h2v1h-2zM223 317h1v1h-1zM317 317h1v1h-1zM382 317h1v1h-1zM456 317h1v1h-1zM512 317h1v1h-1zM736 317h6v1h-6zM751 317h2v1h-2zM224 318h1v1h-1zM316 318h1v1h-1zM383 318h1v1h-1zM456 318h1v1h-1zM512 318h1v1h-1zM731 318h5v1h-5zM742 318h4v1h-4zM749 318h2v1h-2zM224 319h1v1h-1zM316 319h1v1h-1zM383 319h1v1h-1zM455 319h1v1h-1zM512 319h1v1h-1zM730 319h1v1h-1zM746 319h3v1h-3zM224 320h1v1h-1zM315 320h1v1h-1zM384 320h1v1h-1zM455 320h1v1h-1zM513 320h1v1h-1zM729 320h1v1h-1zM224 321h1v1h-1zM315 321h1v1h-1zM385 321h1v1h-1zM454 321h1v1h-1zM513 321h1v1h-1zM728 321h1v1h-1zM225 322h1v1h-1zM315 322h1v1h-1zM385 322h1v1h-1zM454 322h1v1h-1zM513 322h1v1h-1zM727 322h1v1h-1zM225 323h1v1h-1zM314 323h1v1h-1zM386 323h1v1h-1zM453 323h1v1h-1zM513 323h1v1h-1zM726 323h1v1h-1zM225 324h1v1h-1zM314 324h1v1h-1zM386 324h1v1h-1zM453 324h1v1h-1zM514 324h1v1h-1zM725 324h1v1h-1zM225 325h1v1h-1zM314 325h1v1h-1zM387 325h1v1h-1zM452 325h1v1h-1zM514 325h1v1h-1zM724 325h1v1h-1zM226 326h1v1h-1zM314 326h1v1h-1zM388 326h1v1h-1zM452 326h1v1h-1zM514 326h1v1h-1zM720 326h4v1h-4zM226 327h1v1h-1zM313 327h1v1h-1zM388 327h1v1h-1zM451 327h1v1h-1zM514 327h1v1h-1zM715 327h5v1h-5zM226 328h1v1h-1zM313 328h1v1h-1zM389 328h1v1h-1zM451 328h1v1h-1zM515 328h1v1h-1zM714 328h1v1h-1zM226 329h1v1h-1zM313 329h1v1h-1zM390 329h1v1h-1zM450 329h1v1h-1zM515 329h1v1h-1zM714 329h1v1h-1zM227 330h1v1h-1zM312 330h1v1h-1zM391 330h1v1h-1zM450 330h1v1h-1zM515 330h1v1h-1zM713 330h1v1h-1zM227 331h1v1h-1zM312 331h1v1h-1zM391 331h1v1h-1zM449 331h1v1h-1zM515 331h1v1h-1zM713 331h1v1h-1zM227 332h1v1h-1zM312 332h1v1h-1zM392 332h1v1h-1zM449 332h1v1h-1zM516 332h1v1h-1zM712 332h1v1h-1zM227 333h1v1h-1zM312 333h1v1h-1zM393 333h1v1h-1zM448 333h1v1h-1zM516 333h1v1h-1zM711 333h1v1h-1zM227 334h1v1h-1zM311 334h1v1h-1zM394 334h1v1h-1zM448 334h1v1h-1zM516 334h1v1h-1zM711 334h1v1h-1zM228 335h1v1h-1zM311 335h1v1h-1zM394 335h1v1h-1zM448 335h1v1h-1zM517 335h1v1h-1zM710 335h1v1h-1zM228 336h1v1h-1zM311 336h1v1h-1zM395 336h1v1h-1zM447 336h1v1h-1zM517 336h1v1h-1zM709 336h1v1h-1zM228 337h1v1h-1zM310 337h1v1h-1zM396 337h1v1h-1zM447 337h1v1h-1zM518 337h1v1h-1zM709 337h1v1h-1zM228 338h1v1h-1zM310 338h1v1h-1zM397 338h1v1h-1zM446 338h1v1h-1zM518 338h1v1h-1zM708 338h1v1h-1zM228 339h1v1h-1zM310 339h1v1h-1zM398 339h1v1h-1zM446 339h1v1h-1zM518 339h1v1h-1zM708 339h1v1h-1zM228 340h1v1h-1zM310 340h1v1h-1zM399 340h1v1h-1zM446 340h1v1h-1zM519 340h1v1h-1zM707 340h1v1h-1zM229 341h1v1h-1zM309 341h1v1h-1zM399 341h1v1h-1zM445 341h1v1h-1zM519 341h1v1h-1zM707 341h1v1h-1zM229 342h1v1h-1zM309 342h1v1h-1zM400 342h1v1h-1zM445 342h1v1h-1zM519 342h1v1h-1zM706 342h1v1h-1zM229 343h1v1h-1zM309 343h1v1h-1zM401 343h1v1h-1zM444 343h1v1h-1zM520 343h1v1h-1zM706 343h1v1h-1zM229 344h1v1h-1zM308 344h1v1h-1zM402 344h1v1h-1zM444 344h1v1h-1zM520 344h1v1h-1zM706 344h1v1h-1zM229 345h1v1h-1zM308 345h1v1h-1zM403 345h3v1h-3zM443 345h1v1h-1zM520 345h1v1h-1zM705 345h1v1h-1zM230 346h1v1h-1zM308 346h1v1h-1zM406 346h4v1h-4zM443 346h1v1h-1zM521 346h1v1h-1zM705 346h1v1h-1zM230 347h1v1h-1zM308 347h1v1h-1zM410 347h3v1h-3zM442 347h1v1h-1zM521 347h1v1h-1zM705 347h1v1h-1zM230 348h1v1h-1zM307 348h1v1h-1zM413 348h2v1h-2zM441 348h1v1h-1zM522 348h1v1h-1zM705 348h1v1h-1zM230 349h1v1h-1zM307 349h1v1h-1zM415 349h2v1h-2zM426 349h2v1h-2zM440 349h1v1h-1zM522 349h1v1h-1zM704 349h1v1h-1zM230 350h1v1h-1zM307 350h1v1h-1zM417 350h2v1h-2zM422 350h4v1h-4zM428 350h2v1h-2zM439 350h1v1h-1zM522 350h1v1h-1zM704 350h1v1h-1zM231 351h1v1h-1zM306 351h1v1h-1zM419 351h3v1h-3zM430 351h2v1h-2zM438 351h1v1h-1zM523 351h1v1h-1zM704 351h1v1h-1zM231 352h1v1h-1zM306 352h1v1h-1zM432 352h1v1h-1zM437 352h1v1h-1zM523 352h1v1h-1zM703 352h1v1h-1zM231 353h1v1h-1zM306 353h1v1h-1zM433 353h2v1h-2zM436 353h1v1h-1zM523 353h1v1h-1zM703 353h1v1h-1zM231 354h1v1h-1zM305 354h1v1h-1zM435 354h1v1h-1zM524 354h1v1h-1zM703 354h1v1h-1zM231 355h1v1h-1zM305 355h1v1h-1zM524 355h1v1h-1zM702 355h1v1h-1zM231 356h1v1h-1zM305 356h1v1h-1zM524 356h1v1h-1zM702 356h1v1h-1zM232 357h1v1h-1zM304 357h1v1h-1zM524 357h1v1h-1zM702 357h1v1h-1zM232 358h1v1h-1zM304 358h1v1h-1zM525 358h1v1h-1zM701 358h1v1h-1zM232 359h1v1h-1zM304 359h1v1h-1zM525 359h1v1h-1zM701 359h1v1h-1zM232 360h1v1h-1zM303 360h1v1h-1zM525 360h1v1h-1zM701 360h1v1h-1zM232 361h1v1h-1zM303 361h1v1h-1zM526 361h1v1h-1zM701 361h1v1h-1zM233 362h1v1h-1zM302 362h1v1h-1zM526 362h1v1h-1zM700 362h1v1h-1zM233 363h1v1h-1zM302 363h1v1h-1zM526 363h1v1h-1zM700 363h1v1h-1zM233 364h1v1h-1zM302 364h1v1h-1zM527 364h1v1h-1zM700 364h1v1h-1zM233 365h1v1h-1zM301 365h1v1h-1zM527 365h1v1h-1zM699 365h1v1h-1zM233 366h1v1h-1zM301 366h1v1h-1zM527 366h1v1h-1zM699 366h1v1h-1zM234 367h1v1h-1zM301 367h1v1h-1zM527 367h1v1h-1zM699 367h1v1h-1zM234 368h1v1h-1zM300 368h1v1h-1zM528 368h1v1h-1zM698 368h1v1h-1zM234 369h1v1h-1zM300 369h1v1h-1zM528 369h1v1h-1zM698 369h1v1h-1zM234 370h1v1h-1zM300 370h1v1h-1zM528 370h1v1h-1zM698 370h1v1h-1zM234 371h1v1h-1zM299 371h1v1h-1zM529 371h1v1h-1zM697 371h1v1h-1zM234 372h1v1h-1zM299 372h1v1h-1zM529 372h1v1h-1zM697 372h1v1h-1zM235 373h1v1h-1zM298 373h1v1h-1zM529 373h1v1h-1zM697 373h1v1h-1zM235 374h1v1h-1zM297 374h1v1h-1zM530 374h1v1h-1zM696 374h1v1h-1zM235 375h1v1h-1zM297 375h1v1h-1zM530 375h1v1h-1zM696 375h1v1h-1zM235 376h1v1h-1zM296 376h1v1h-1zM530 376h1v1h-1zM696 376h1v1h-1zM235 377h1v1h-1zM295 377h1v1h-1zM530 377h1v1h-1zM695 377h1v1h-1zM236 378h1v1h-1zM294 378h1v1h-1zM531 378h1v1h-1zM695 378h1v1h-1zM236 379h1v1h-1zM293 379h1v1h-1zM531 379h1v1h-1zM695 379h1v1h-1zM236 380h1v1h-1zM293 380h1v1h-1zM531 380h1v1h-1zM694 380h1v1h-1zM236 381h1v1h-1zM292 381h1v1h-1zM531 381h1v1h-1zM694 381h1v1h-1zM237 382h1v1h-1zM291 382h1v1h-1zM532 382h1v1h-1zM694 382h1v1h-1zM237 383h1v1h-1zM291 383h1v1h-1zM532 383h1v1h-1zM693 383h1v1h-1zM237 384h1v1h-1zM290 384h1v1h-1zM532 384h1v1h-1zM693 384h1v1h-1zM237 385h1v1h-1zM290 385h1v1h-1zM532 385h1v1h-1zM693 385h1v1h-1zM238 386h1v1h-1zM289 386h1v1h-1zM533 386h1v1h-1zM692 386h1v1h-1zM238 387h1v1h-1zM289 387h1v1h-1zM533 387h1v1h-1zM692 387h1v1h-1zM238 388h1v1h-1zM288 388h1v1h-1zM533 388h1v1h-1zM692 388h1v1h-1zM238 389h1v1h-1zM288 389h1v1h-1zM533 389h1v1h-1zM691 389h1v1h-1zM238 390h1v1h-1zM287 390h1v1h-1zM534 390h1v1h-1zM691 390h1v1h-1zM239 391h1v1h-1zM287 391h1v1h-1zM534 391h1v1h-1zM690 391h1v1h-1zM239 392h1v1h-1zM287 392h1v1h-1zM534 392h1v1h-1zM690 392h1v1h-1zM239 393h1v1h-1zM286 393h1v1h-1zM534 393h1v1h-1zM689 393h1v1h-1zM239 394h1v1h-1zM286 394h1v1h-1zM535 394h1v1h-1zM688 394h1v1h-1zM240 395h1v1h-1zM285 395h1v1h-1zM535 395h1v1h-1zM687 395h1v1h-1zM240 396h1v1h-1zM285 396h1v1h-1zM535 396h1v1h-1zM687 396h1v1h-1zM240 397h1v1h-1zM284 397h1v1h-1zM535 397h1v1h-1zM686 397h1v1h-1zM240 398h1v1h-1zM284 398h1v1h-1zM536 398h1v1h-1zM685 398h1v1h-1zM240 399h1v1h-1zM283 399h1v1h-1zM536 399h1v1h-1zM684 399h1v1h-1zM241 400h1v1h-1zM283 400h1v1h-1zM536 400h1v1h-1zM635 400h2v1h-2zM684 400h1v1h-1zM241 401h1v1h-1zM283 401h1v1h-1zM536 401h1v1h-1zM634 401h1v1h-1zM637 401h3v1h-3zM683 401h1v1h-1zM241 402h1v1h-1zM282 402h1v1h-1zM537 402h1v1h-1zM634 402h1v1h-1zM640 402h2v1h-2zM681 402h2v1h-2zM241 403h1v1h-1zM282 403h1v1h-1zM537 403h1v1h-1zM633 403h1v1h-1zM642 403h2v1h-2zM680 403h1v1h-1zM242 404h1v1h-1zM282 404h1v1h-1zM537 404h1v1h-1zM633 404h1v1h-1zM644 404h1v1h-1zM678 404h2v1h-2zM242 405h1v1h-1zM281 405h1v1h-1zM537 405h1v1h-1zM632 405h1v1h-1zM645 405h1v1h-1zM676 405h2v1h-2zM242 406h1v1h-1zM281 406h1v1h-1zM538 406h1v1h-1zM632 406h1v1h-1zM646 406h2v1h-2zM675 406h1v1h-1zM242 407h1v1h-1zM280 407h1v1h-1zM538 407h1v1h-1zM631 407h1v1h-1zM648 407h1v1h-1zM673 407h2v1h-2zM243 408h1v1h-1zM280 408h1v1h-1zM538 408h1v1h-1zM630 408h1v1h-1zM649 408h1v1h-1zM672 408h1v1h-1zM243 409h1v1h-1zM280 409h1v1h-1zM538 409h1v1h-1zM630 409h1v1h-1zM650 409h1v1h-1zM670 409h2v1h-2zM243 410h1v1h-1zM279 410h1v1h-1zM539 410h1v1h-1zM629 410h1v1h-1zM651 410h5v1h-5zM668 410h2v1h-2zM243 411h1v1h-1zM279 411h1v1h-1zM539 411h1v1h-1zM629 411h1v1h-1zM656 411h12v1h-12zM244 412h1v1h-1zM279 412h1v1h-1zM539 412h1v1h-1zM628 412h1v1h-1zM244 413h1v1h-1zM278 413h1v1h-1zM539 413h1v1h-1zM628 413h1v1h-1zM244 414h1v1h-1zM278 414h1v1h-1zM540 414h1v1h-1zM627 414h1v1h-1zM245 415h1v1h-1zM278 415h1v1h-1zM540 415h1v1h-1zM626 415h1v1h-1zM245 416h1v1h-1zM277 416h1v1h-1zM540 416h1v1h-1zM625 416h1v1h-1zM245 417h1v1h-1zM277 417h1v1h-1zM540 417h1v1h-1zM625 417h1v1h-1zM246 418h1v1h-1zM276 418h1v1h-1zM541 418h1v1h-1zM624 418h1v1h-1zM246 419h1v1h-1zM276 419h1v1h-1zM541 419h1v1h-1zM623 419h1v1h-1zM246 420h1v1h-1zM276 420h1v1h-1zM541 420h1v1h-1zM622 420h1v1h-1zM247 421h1v1h-1zM275 421h1v1h-1zM542 421h1v1h-1zM621 421h1v1h-1zM247 422h1v1h-1zM275 422h1v1h-1zM542 422h1v1h-1zM621 422h1v1h-1zM247 423h1v1h-1zM275 423h1v1h-1zM542 423h1v1h-1zM620 423h1v1h-1zM247 424h1v1h-1zM274 424h1v1h-1zM542 424h1v1h-1zM619 424h1v1h-1zM248 425h1v1h-1zM274 425h1v1h-1zM543 425h1v1h-1zM618 425h1v1h-1zM248 426h1v1h-1zM273 426h1v1h-1zM543 426h1v1h-1zM618 426h1v1h-1zM248 427h1v1h-1zM273 427h1v1h-1zM543 427h1v1h-1zM617 427h1v1h-1zM249 428h1v1h-1zM272 428h1v1h-1zM544 428h1v1h-1zM616 428h1v1h-1zM249 429h1v1h-1zM272 429h1v1h-1zM544 429h1v1h-1zM616 429h1v1h-1zM249 430h1v1h-1zM272 430h1v1h-1zM544 430h1v1h-1zM615 430h1v1h-1zM250 431h1v1h-1zM271 431h1v1h-1zM544 431h1v1h-1zM614 431h1v1h-1zM250 432h1v1h-1zM271 432h1v1h-1zM545 432h1v1h-1zM614 432h1v1h-1zM250 433h1v1h-1zM270 433h1v1h-1zM545 433h1v1h-1zM613 433h1v1h-1zM251 434h1v1h-1zM270 434h1v1h-1zM545 434h1v1h-1zM612 434h1v1h-1zM251 435h1v1h-1zM270 435h1v1h-1zM546 435h1v1h-1zM612 435h1v1h-1zM252 436h1v1h-1zM269 436h1v1h-1zM546 436h1v1h-1zM611 436h1v1h-1zM253 437h1v1h-1zM269 437h1v1h-1zM546 437h1v1h-1zM610 437h1v1h-1zM253 438h1v1h-1zM268 438h1v1h-1zM546 438h1v1h-1zM610 438h1v1h-1zM254 439h1v1h-1zM268 439h1v1h-1zM547 439h1v1h-1zM609 439h1v1h-1zM255 440h1v1h-1zM267 440h1v1h-1zM547 440h1v1h-1zM609 440h1v1h-1zM256 441h1v1h-1zM267 441h1v1h-1zM547 441h1v1h-1zM608 441h1v1h-1zM257 442h1v1h-1zM265 442h2v1h-2zM548 442h1v1h-1zM608 442h1v1h-1zM257 443h1v1h-1zM263 443h2v1h-2zM548 443h1v1h-1zM607 443h1v1h-1zM258 444h1v1h-1zM261 444h2v1h-2zM549 444h1v1h-1zM607 444h1v1h-1zM259 445h2v1h-2zM549 445h1v1h-1zM606 445h1v1h-1zM550 446h1v1h-1zM606 446h1v1h-1zM550 447h1v1h-1zM605 447h1v1h-1zM550 448h1v1h-1zM605 448h1v1h-1zM551 449h1v1h-1zM604 449h1v1h-1zM551 450h1v1h-1zM604 450h1v1h-1zM552 451h1v1h-1zM603 451h1v1h-1zM552 452h1v1h-1zM603 452h1v1h-1zM552 453h1v1h-1zM602 453h1v1h-1zM553 454h1v1h-1zM602 454h1v1h-1zM553 455h1v1h-1zM601 455h1v1h-1zM554 456h1v1h-1zM600 456h1v1h-1zM554 457h1v1h-1zM600 457h1v1h-1zM555 458h1v1h-1zM599 458h1v1h-1zM555 459h1v1h-1zM598 459h1v1h-1zM555 460h1v1h-1zM598 460h1v1h-1zM556 461h1v1h-1zM597 461h1v1h-1zM556 462h1v1h-1zM596 462h1v1h-1zM557 463h1v1h-1zM596 463h1v1h-1zM557 464h1v1h-1zM595 464h1v1h-1zM557 465h1v1h-1zM594 465h1v1h-1zM558 466h1v1h-1zM592 466h2v1h-2zM558 467h1v1h-1zM591 467h1v1h-1zM559 468h1v1h-1zM590 468h1v1h-1zM559 469h1v1h-1zM571 469h2v1h-2zM588 469h2v1h-2zM559 470h1v1h-1zM570 470h1v1h-1zM573 470h3v1h-3zM586 470h2v1h-2zM560 471h1v1h-1zM569 471h1v1h-1zM576 471h2v1h-2zM582 471h4v1h-4zM560 472h1v1h-1zM569 472h1v1h-1zM578 472h4v1h-4zM561 473h1v1h-1zM568 473h1v1h-1zM561 474h1v1h-1zM567 474h1v1h-1zM561 475h1v1h-1zM566 475h1v1h-1zM562 476h1v1h-1zM565 476h1v1h-1zM562 477h1v1h-1zM565 477h1v1h-1zM563 478h2v1h-2zM563 479h1v1h-1z" fill="#0000cd"/>
<path d="M3 30h1v1h-1zM4 31h1v1h-1zM5 32h1v1h-1zM6 33h1v1h-1zM7 34h1v1h-1zM8 35h1v1h-1zM8 36h1v1h-1zM9 37h1v1h-1zM10 38h1v1h-1zM11 39h1v1h-1zM12 40h1v1h-1zM13 41h1v1h-1z" fill="#ffff00"/>
<rect x="3" y="112" width="1415" height="3" fill="#ff0000" />
<rect x="3" y="232" width="1415" height="3" fill="#00ff00" />
<rect x="3" y="395" width="1415" height="3" fill="#0000ff" />
<rect x="3" y="503" width="1415" height="3" fill="#0000ff" />
</g>
<g shape-rendering="crispEdges">
<rect x="2" y="110" width="7" height="7" fill="#ff0000" />
<rect x="5" y="113" width="1" height="1" fill="#fff" />
<rect x="1412" y="110" width="7" height="7" fill="#ff0000" />
<rect x="1415" y="113" width="1" height="1" fill="#fff" />
<rect x="2" y="230" width="7" height="7" fill="#00ff00" />
<rect x="5" y="233" width="1" height="1" fill="#fff" />
<rect x="1412" y="230" width="7" height="7" fill="#00ff00" />
<rect x="1415" y="233" width="1" height="1" fill="#fff" />
<rect x="2" y="393" width="7" height="7" fill="#0000ff" />
<rect x="5" y="396" width="1" height="1" fill="#fff" />
<rect x="1412" y="393" width="7" height="7" fill="#0000ff" />
<rect x="1415" y="396" width="1" height="1" fill="#fff" />
<rect x="1420" y="107" width="41" height="11" fill="#ff0000" />
<rect x="1420" y="227" width="41" height="11" fill="#00ff00" />
<rect x="1420" y="390" width="41" height="11" fill="#0000ff" />
<rect x="1420" y="498" width="41" height="11" fill="#0000ff" />
<rect x="1420" y="315" width="41" height="11" fill="#000" />
<rect x="3" y="599" width="1" height="5" fill="#c0c0c0" />
<rect x="11" y="599" width="1" height="11" fill="#c0c0c0" />
<rect x="19" y="599" width="1" height="17" fill="#c0c0c0" />
<rect x="27" y="599" width="1" height="20" fill="#c0c0c0" />
<rect x="35" y="599" width="1" height="21" fill="#c0c0c0" />
<rect x="43" y="599" width="1" height="20" fill="#c0c0c0" />
<rect x="51" y="599" width="1" height="17" fill="#c0c0c0" />
<rect x="59" y="599" width="1" height="14" fill="#c0c0c0" />
<rect x="67" y="599" width="1" height="19" fill="#c0c0c0" />
<rect x="75" y="599" width="1" height="23" fill="#c0c0c0" />
<rect x="83" y="599" width="1" height="30" fill="#c0c0c0" />
<rect x="91" y="599" width="1" height="35" fill="#c0c0c0" />
<rect x="99" y="599" width="1" height="39" fill="#c0c0c0" />
<rect x="107" y="599" width="1" height="43" fill="#c0c0c0" />
<rect x="115" y="599" width="1" height="49" fill="#c0c0c0" />
<rect x="123" y="599" width="1" height="50" fill="#c0c0c0" />
<rect x="131" y="599" width="1" height="51" fill="#c0c0c0" />
<rect x="139" y="599" width="1" height="50" fill="#c0c0c0" />
<rect x="147" y="599" width="1" height="46" fill="#c0c0c0" />
<rect x="155" y="599" width="1" height="43" fill="#c0c0c0" />
<rect x="163" y="599" width="1" height="37" fill="#c0c0c0" />
<rect x="171" y="599" width="1" height="31" fill="#c0c0c0" />
<rect x="179" y="599" width="1" height="27" fill="#c0c0c0" />
<rect x="187" y="599" width="1" height="22" fill="#c0c0c0" />
<rect x="195" y="599" width="1" height="23" fill="#c0c0c0" />
<rect x="203" y="599" width="1" height="32" fill="#c0c0c0" />
<rect x="211" y="599" width="1" height="43" fill="#c0c0c0" />
<rect x="219" y="599" width="1" height="51" fill="#c0c0c0" />
<rect x="227" y="599" width="1" height="60" fill="#c0c0c0" />
<rect x="235" y="599" width="1" height="63" fill="#c0c0c0" />
<rect x="243" y="599" width="1" height="64" fill="#c0c0c0" />
<rect x="251" y="599" width="1" height="64" fill="#c0c0c0" />
<rect x="259" y="599" width="1" height="65" fill="#c0c0c0" />
<rect x="267" y="599" width="1" height="61" fill="#c0c0c0" />
<rect x="275" y="599" width="1" height="51" fill="#c0c0c0" />
<rect x="283" y="599" width="1" height="46" fill="#c0c0c0" />
<rect x="291" y="599" width="1" height="40" fill="#c0c0c0" />
<rect x="299" y="599" width="1" height="35" fill="#c0c0c0" />
<rect x="307" y="599" width="1" height="27" fill="#c0c0c0" />
<rect x="315" y="599" width="1" height="20" fill="#c0c0c0" />
<rect x="323" y="599" width="1" height="12" fill="#c0c0c0" />
<rect x="331" y="599" width="1" height="7" fill="#c0c0c0" />
<rect x="339" y="599" width="1" height="6" fill="#c0c0c0" />
<rect x="347" y="599" width="1" height="3" fill="#c0c0c0" />
<rect x="355" y="599" width="1" height="7" fill="#c0c0c0" />
<rect x="363" y="599" width="1" height="9" fill="#c0c0c0" />
<rect x="371" y="599" width="1" height="10" fill="#c0c0c0" />
<rect x="379" y="599" width="1" height="8" fill="#c0c0c0" />
<rect x="387" y="599" width="1" height="9" fill="#c0c0c0" />
<rect x="395" y="599" width="1" height="11" fill="#c0c0c0" />
<rect x="403" y="599" width="1" height="13" fill="#c0c0c0" />
<rect x="411" y="599" width="1" height="14" fill="#c0c0c0" />
<rect x="419" y="599" width="1" height="15" fill="#c0c0c0" />
<rect x="427" y="599" width="1" height="13" fill="#c0c0c0" />
<rect x="435" y="599" width="1" height="11" fill="#c0c0c0" />
<rect x="443" y="599" width="1" height="7" fill="#c0c0c0" />
<rect x="451" y="599" width="1" height="1" fill="#c0c0c0" />
<rect x="459" y="596" width="1" height="4" fill="#c0c0c0" />
<rect x="467" y="594" width="1" height="6" fill="#c0c0c0" />
<rect x="475" y="592" width="1" height="8" fill="#c0c0c0" />
<rect x="483" y="590" width="1" height="10" fill="#c0c0c0" />
<rect x="491" y="590" width="1" height="10" fill="#c0c0c0" />
<rect x="499" y="598" width="1" height="2" fill="#c0c0c0" />
<rect x="507" y="599" width="1" height="1" fill="#c0c0c0" />
<rect x="515" y="599" width="1" height="14" fill="#c0c0c0" />
<rect x="523" y="599" width="1" height="20" fill="#c0c0c0" />
<rect x="531" y="599" width="1" height="25" fill="#c0c0c0" />
<rect x="539" y="599" width="1" height="29" fill="#c0c0c0" />
<rect x="547" y="599" width="1" height="33" fill="#c0c0c0" />
<rect x="555" y="599" width="1" height="37" fill="#c0c0c0" />
<rect x="563" y="599" width="1" height="41" fill="#c0c0c0" />
<rect x="571" y="599" width="1" height="39" fill="#c0c0c0" />
<rect x="579" y="599" width="1" height="38" fill="#c0c0c0" />
<rect x="587" y="599" width="1" height="35" fill="#c0c0c0" />
<rect x="595" y="599" width="1" height="31" fill="#c0c0c0" />
<rect x="603" y="599" width="1" height="27" fill="#c0c0c0" />
<rect x="611" y="599" width="1" height="22" fill="#c0c0c0" />
<rect x="619" y="599" width="1" height="20" fill="#c0c0c0" />
<rect x="627" y="599" width="1" height="16" fill="#c0c0c0" />
<rect x="635" y="599" width="1" height="11" fill="#c0c0c0" />
<rect x="643" y="599" width="1" height="13" fill="#c0c0c0" />
<rect x="651" y="599" width="1" height="17" fill="#c0c0c0" />
<rect x="659" y="599" width="1" height="14" fill="#c0c0c0" />
<rect x="667" y="599" width="1" height="11" fill="#c0c0c0" />
<rect x="675" y="599" width="1" height="8" fill="#c0c0c0" />
<rect x="683" y="599" width="1" height="2" fill="#c0c0c0" />
<rect x="691" y="594" width="1" height="6" fill="#c0c0c0" />
<rect x="699" y="589" width="1" height="11" fill="#c0c0c0" />
<rect x="707" y="584" width="1" height="16" fill="#c0c0c0" />
<rect x="715" y="582" width="1" height="18" fill="#c0c0c0" />
<rect x="723" y="587" width="1" height="13" fill="#c0c0c0" />
<rect x="731" y="586" width="1" height="14" fill="#c0c0c0" />
<rect x="739" y="584" width="1" height="16" fill="#c0c0c0" />
<rect x="747" y="582" width="1" height="18" fill="#c0c0c0" />
<rect x="755" y="579" width="1" height="21" fill="#c0c0c0" />
<rect x="763" y="577" width="1" height="23" fill="#c0c0c0" />
<rect x="771" y="574" width="1" height="26" fill="#c0c0c0" />
<rect x="779" y="574" width="1" height="26" fill="#c0c0c0" />
<rect x="787" y="574" width="1" height="26" fill="#c0c0c0" />
<rect x="795" y="578" width="1" height="22" fill="#c0c0c0" />
<rect x="803" y="577" width="1" height="23" fill="#c0c0c0" />
<rect x="811" y="575" width="1" height="25" fill="#c0c0c0" />
<rect x="819" y="571" width="1" height="29" fill="#c0c0c0" />
<rect x="827" y="573" width="1" height="27" fill="#c0c0c0" />
<rect x="835" y="574" width="1" height="26" fill="#c0c0c0" />
<rect x="843" y="576" width="1" height="24" fill="#c0c0c0" />
<rect x="851" y="579" width="1" height="21" fill="#c0c0c0" />
<rect x="859" y="585" width="1" height="15" fill="#c0c0c0" />
<rect x="867" y="585" width="1" height="15" fill="#c0c0c0" />
<rect x="875" y="584" width="1" height="16" fill="#c0c0c0" />
<rect x="883" y="586" width="1" height="14" fill="#c0c0c0" />
<rect x="891" y="587" width="1" height="13" fill="#c0c0c0" />
<rect x="899" y="583" width="1" height="17" fill="#c0c0c0" />
<rect x="907" y="582" width="1" height="18" fill="#c0c0c0" />
<rect x="915" y="580" width="1" height="20" fill="#c0c0c0" />
<rect x="923" y="579" width="1" height="21" fill="#c0c0c0" />
<rect x="931" y="579" width="1" height="21" fill="#c0c0c0" />
<rect x="939" y="581" width="1" height="19" fill="#c0c0c0" />
<rect x="947" y="582" width="1" height="18" fill="#c0c0c0" />
<rect x="955" y="584" width="1" height="16" fill="#c0c0c0" />
<rect x="963" y="586" width="1" height="14" fill="#c0c0c0" />
<rect x="971" y="584" width="1" height="16" fill="#c0c0c0" />
<rect x="979" y="583" width="1" height="17" fill="#c0c0c0" />
<rect x="987" y="582" width="1" height="18" fill="#c0c0c0" />
<rect x="995" y="582" width="1" height="18" fill="#c0c0c0" />
<rect x="1003" y="581" width="1" height="19" fill="#c0c0c0" />
<rect x="1011" y="582" width="1" height="18" fill="#c0c0c0" />
<rect x="1019" y="591" width="1" height="9" fill="#c0c0c0" />
<rect x="1027" y="598" width="1" height="2" fill="#c0c0c0" />
<rect x="1035" y="599" width="1" height="4" fill="#c0c0c0" />
<rect x="1043" y="599" width="1" height="8" fill="#c0c0c0" />
<rect x="1051" y="599" width="1" height="9" fill="#c0c0c0" />
<rect x="1059" y="599" width="1" height="8" fill="#c0c0c0" />
<rect x="1067" y="599" width="1" height="6" fill="#c0c0c0" />
<rect x="1075" y="599" width="1" height="3" fill="#c0c0c0" />
<rect x="1083" y="599" width="1" height="2" fill="#c0c0c0" />
<rect x="1091" y="599" width="1" height="1" fill="#c0c0c0" />
<rect x="1099" y="599" width="1" height="1" fill="#c0c0c0" />
<rect x="1107" y="599" width="1" height="1" fill="#c0c0c0" />
<rect x="1115" y="599" width="1" height="3" fill="#c0c0c0" />
<path d="M831 574h3v1h-3zM837 574h3v1h-3zM843 574h3v1h-3zM849 574h3v1h-3zM855 574h1v1h-1zM819 575h3v1h-3zM825 575h3v1h-3zM856 575h2v1h-2zM861 575h3v1h-3zM808 576h2v1h-2zM813 576h3v1h-3zM867 576h3v1h-3zM801 577h3v1h-3zM807 577h1v1h-1zM873 577h3v1h-3zM796 578h2v1h-2zM879 578h3v1h-3zM790 579h2v1h-2zM795 579h1v1h-1zM885 579h3v1h-3zM784 580h2v1h-2zM789 580h1v1h-1zM891 580h3v1h-3zM777 581h3v1h-3zM783 581h1v1h-1zM897 581h3v1h-3zM903 581h1v1h-1zM771 582h3v1h-3zM904 582h2v1h-2zM909 582h3v1h-3zM927 582h3v1h-3zM933 582h3v1h-3zM939 582h3v1h-3zM945 582h3v1h-3zM951 582h3v1h-3zM957 582h3v1h-3zM963 582h3v1h-3zM969 582h3v1h-3zM975 582h3v1h-3zM981 582h3v1h-3zM987 582h3v1h-3zM993 582h3v1h-3zM999 582h3v1h-3zM1005 582h3v1h-3zM1011 582h3v1h-3zM760 583h2v1h-2zM765 583h3v1h-3zM915 583h3v1h-3zM921 583h3v1h-3zM1017 583h3v1h-3zM754 584h2v1h-2zM759 584h1v1h-1zM1023 584h3v1h-3zM753 585h1v1h-1zM1029 585h2v1h-2zM749 586h1v1h-1zM1031 586h1v1h-1zM747 587h2v1h-2zM1035 587h2v1h-2zM1037 588h1v1h-1zM741 589h3v1h-3zM1041 589h3v1h-3zM735 591h3v1h-3zM1047 591h3v1h-3zM731 592h1v1h-1zM729 593h2v1h-2zM1053 593h3v1h-3zM1059 595h2v1h-2zM724 596h2v1h-2zM1061 596h1v1h-1zM507 597h3v1h-3zM513 597h3v1h-3zM519 597h3v1h-3zM723 597h1v1h-1zM1065 597h1v1h-1zM496 598h2v1h-2zM501 598h3v1h-3zM719 598h1v1h-1zM1066 598h2v1h-2zM490 599h2v1h-2zM495 599h1v1h-1zM525 599h1v1h-1zM717 599h2v1h-2zM1071 599h3v1h-3zM3 600h3v1h-3zM489 600h1v1h-1zM526 600h2v1h-2zM712 600h2v1h-2zM1077 600h1v1h-1zM9 601h1v1h-1zM483 601h3v1h-3zM711 601h1v1h-1zM1078 601h2v1h-2zM10 602h2v1h-2zM479 602h1v1h-1zM531 602h2v1h-2zM706 602h2v1h-2zM1083 602h3v1h-3zM1113 602h3v1h-3zM15 603h1v1h-1zM477 603h2v1h-2zM533 603h1v1h-1zM705 603h1v1h-1zM1089 603h3v1h-3zM1095 603h3v1h-3zM1101 603h3v1h-3zM1107 603h3v1h-3zM16 604h2v1h-2zM472 604h2v1h-2zM21 605h2v1h-2zM471 605h1v1h-1zM537 605h2v1h-2zM700 605h2v1h-2zM23 606h1v1h-1zM466 606h2v1h-2zM539 606h1v1h-1zM699 606h1v1h-1zM27 607h2v1h-2zM387 607h3v1h-3zM393 607h3v1h-3zM465 607h1v1h-1zM695 607h1v1h-1zM29 608h1v1h-1zM381 608h3v1h-3zM399 608h3v1h-3zM405 608h3v1h-3zM459 608h3v1h-3zM543 608h2v1h-2zM693 608h2v1h-2zM33 609h1v1h-1zM377 609h1v1h-1zM411 609h3v1h-3zM454 609h2v1h-2zM545 609h1v1h-1zM34 610h2v1h-2zM39 610h1v1h-1zM375 610h2v1h-2zM417 610h3v1h-3zM423 610h3v1h-3zM447 610h3v1h-3zM453 610h1v1h-1zM688 610h2v1h-2zM40 611h2v1h-2zM45 611h3v1h-3zM369 611h3v1h-3zM429 611h3v1h-3zM435 611h3v1h-3zM441 611h3v1h-3zM549 611h1v1h-1zM687 611h1v1h-1zM51 612h3v1h-3zM550 612h1v1h-1zM682 612h2v1h-2zM57 613h1v1h-1zM364 613h2v1h-2zM551 613h1v1h-1zM681 613h1v1h-1zM58 614h2v1h-2zM363 614h1v1h-1zM677 614h1v1h-1zM63 615h3v1h-3zM555 615h1v1h-1zM675 615h2v1h-2zM69 616h1v1h-1zM358 616h2v1h-2zM556 616h1v1h-1zM669 616h3v1h-3zM70 617h2v1h-2zM357 617h1v1h-1zM557 617h1v1h-1zM663 617h3v1h-3zM75 618h3v1h-3zM658 618h2v1h-2zM81 619h1v1h-1zM352 619h2v1h-2zM657 619h1v1h-1zM82 620h2v1h-2zM351 620h1v1h-1zM561 620h2v1h-2zM653 620h1v1h-1zM87 621h3v1h-3zM563 621h1v1h-1zM651 621h2v1h-2zM93 622h1v1h-1zM347 622h1v1h-1zM94 623h2v1h-2zM345 623h2v1h-2zM567 623h1v1h-1zM645 623h3v1h-3zM99 624h2v1h-2zM568 624h2v1h-2zM101 625h1v1h-1zM341 625h1v1h-1zM640 625h2v1h-2zM105 626h1v1h-1zM340 626h1v1h-1zM639 626h1v1h-1zM106 627h2v1h-2zM339 627h1v1h-1zM573 627h2v1h-2zM634 627h2v1h-2zM111 628h1v1h-1zM575 628h1v1h-1zM633 628h1v1h-1zM112 629h2v1h-2zM629 629h1v1h-1zM335 630h1v1h-1zM579 630h3v1h-3zM627 630h2v1h-2zM117 631h2v1h-2zM334 631h1v1h-1zM585 631h1v1h-1zM622 631h2v1h-2zM119 632h1v1h-1zM333 632h1v1h-1zM586 632h2v1h-2zM621 632h1v1h-1zM591 633h3v1h-3zM615 633h3v1h-3zM123 634h2v1h-2zM201 634h3v1h-3zM207 634h3v1h-3zM213 634h3v1h-3zM219 634h3v1h-3zM597 634h3v1h-3zM603 634h3v1h-3zM609 634h3v1h-3zM125 635h1v1h-1zM197 635h1v1h-1zM225 635h3v1h-3zM329 635h1v1h-1zM195 636h2v1h-2zM231 636h1v1h-1zM328 636h1v1h-1zM129 637h2v1h-2zM232 637h2v1h-2zM327 637h1v1h-1zM131 638h1v1h-1zM189 638h3v1h-3zM135 639h1v1h-1zM237 639h1v1h-1zM136 640h2v1h-2zM184 640h2v1h-2zM238 640h2v1h-2zM323 640h1v1h-1zM183 641h1v1h-1zM321 641h2v1h-2zM141 642h3v1h-3zM177 642h3v1h-3zM243 642h1v1h-1zM165 643h3v1h-3zM171 643h3v1h-3zM244 643h2v1h-2zM317 643h1v1h-1zM147 644h3v1h-3zM153 644h3v1h-3zM159 644h3v1h-3zM316 644h1v1h-1zM249 645h1v1h-1zM315 645h1v1h-1zM250 646h1v1h-1zM251 647h1v1h-1zM311 648h1v1h-1zM255 649h1v1h-1zM310 649h1v1h-1zM256 650h2v1h-2zM309 650h1v1h-1zM261 652h1v1h-1zM304 652h2v1h-2zM262 653h2v1h-2zM303 653h1v1h-1zM297 654h3v1h-3zM267 655h3v1h-3zM273 656h1v1h-1zM291 656h3v1h-3zM274 657h2v1h-2zM279 658h3v1h-3zM285 658h3v1h-3z" fill="#ff0000"/>
<line x1="3" y1="711.5" x2="1418" y2="711.5" stroke="#c0c0c0" stroke-width="1" stroke-dasharray="3,3"/>
<line x1="3" y1="762.5" x2="1418" y2="762.5" stroke="#c0c0c0" stroke-width="1" stroke-dasharray="3,3"/>
<path d="M770 722h2v1h-2zM819 722h1v1h-1zM691 723h5v1h-5zM704 723h4v1h-4zM768 723h2v1h-2zM772 723h2v1h-2zM817 723h2v1h-2zM820 723h1v1h-1zM451 724h5v1h-5zM689 724h2v1h-2zM696 724h8v1h-8zM708 724h2v1h-2zM755 724h5v1h-5zM765 724h3v1h-3zM774 724h1v1h-1zM816 724h1v1h-1zM821 724h1v1h-1zM449 725h2v1h-2zM456 725h5v1h-5zM483 725h1v1h-1zM687 725h2v1h-2zM710 725h1v1h-1zM753 725h2v1h-2zM760 725h5v1h-5zM775 725h1v1h-1zM814 725h2v1h-2zM822 725h2v1h-2zM899 725h1v1h-1zM922 725h2v1h-2zM1002 725h2v1h-2zM447 726h2v1h-2zM461 726h2v1h-2zM482 726h1v1h-1zM484 726h1v1h-1zM685 726h2v1h-2zM711 726h1v1h-1zM752 726h1v1h-1zM776 726h2v1h-2zM803 726h5v1h-5zM812 726h2v1h-2zM824 726h1v1h-1zM898 726h1v1h-1zM900 726h1v1h-1zM918 726h4v1h-4zM924 726h2v1h-2zM984 726h8v1h-8zM998 726h4v1h-4zM1004 726h1v1h-1zM445 727h2v1h-2zM463 727h2v1h-2zM481 727h1v1h-1zM485 727h1v1h-1zM683 727h2v1h-2zM712 727h2v1h-2zM750 727h2v1h-2zM778 727h1v1h-1zM802 727h1v1h-1zM808 727h4v1h-4zM825 727h1v1h-1zM897 727h1v1h-1zM901 727h1v1h-1zM915 727h3v1h-3zM926 727h1v1h-1zM978 727h6v1h-6zM992 727h6v1h-6zM1004 727h1v1h-1zM323 728h5v1h-5zM443 728h2v1h-2zM465 728h2v1h-2zM480 728h1v1h-1zM486 728h1v1h-1zM682 728h1v1h-1zM714 728h1v1h-1zM748 728h2v1h-2zM779 728h5v1h-5zM801 728h1v1h-1zM826 728h1v1h-1zM896 728h1v1h-1zM902 728h2v1h-2zM913 728h2v1h-2zM927 728h1v1h-1zM974 728h4v1h-4zM1005 728h1v1h-1zM321 729h2v1h-2zM328 729h4v1h-4zM442 729h1v1h-1zM467 729h2v1h-2zM479 729h1v1h-1zM487 729h1v1h-1zM681 729h1v1h-1zM715 729h1v1h-1zM738 729h10v1h-10zM784 729h4v1h-4zM801 729h1v1h-1zM827 729h3v1h-3zM874 729h2v1h-2zM895 729h1v1h-1zM904 729h1v1h-1zM912 729h1v1h-1zM928 729h2v1h-2zM971 729h3v1h-3zM1006 729h1v1h-1zM307 730h3v1h-3zM319 730h2v1h-2zM332 730h1v1h-1zM442 730h1v1h-1zM469 730h2v1h-2zM478 730h1v1h-1zM487 730h1v1h-1zM680 730h1v1h-1zM716 730h1v1h-1zM734 730h4v1h-4zM788 730h1v1h-1zM800 730h1v1h-1zM830 730h4v1h-4zM872 730h2v1h-2zM876 730h2v1h-2zM895 730h1v1h-1zM905 730h1v1h-1zM910 730h2v1h-2zM930 730h1v1h-1zM969 730h2v1h-2zM1007 730h1v1h-1zM1075 730h3v1h-3zM1090 730h4v1h-4zM306 731h1v1h-1zM310 731h4v1h-4zM317 731h2v1h-2zM333 731h1v1h-1zM441 731h1v1h-1zM471 731h2v1h-2zM477 731h1v1h-1zM488 731h1v1h-1zM634 731h2v1h-2zM678 731h2v1h-2zM717 731h1v1h-1zM731 731h3v1h-3zM789 731h1v1h-1zM799 731h1v1h-1zM834 731h11v1h-11zM869 731h3v1h-3zM878 731h1v1h-1zM894 731h1v1h-1zM906 731h1v1h-1zM908 731h2v1h-2zM931 731h5v1h-5zM944 731h4v1h-4zM968 731h1v1h-1zM1007 731h1v1h-1zM1073 731h2v1h-2zM1078 731h4v1h-4zM1086 731h4v1h-4zM1094 731h4v1h-4zM306 732h1v1h-1zM314 732h3v1h-3zM334 732h1v1h-1zM440 732h1v1h-1zM473 732h2v1h-2zM476 732h1v1h-1zM489 732h1v1h-1zM630 732h4v1h-4zM636 732h1v1h-1zM677 732h1v1h-1zM717 732h1v1h-1zM730 732h1v1h-1zM790 732h2v1h-2zM798 732h1v1h-1zM845 732h2v1h-2zM867 732h2v1h-2zM879 732h1v1h-1zM893 732h1v1h-1zM907 732h1v1h-1zM936 732h8v1h-8zM948 732h2v1h-2zM966 732h2v1h-2zM1008 732h1v1h-1zM1072 732h1v1h-1zM1082 732h4v1h-4zM1098 732h2v1h-2zM305 733h1v1h-1zM335 733h1v1h-1zM440 733h1v1h-1zM475 733h1v1h-1zM490 733h1v1h-1zM627 733h3v1h-3zM636 733h1v1h-1zM676 733h1v1h-1zM718 733h1v1h-1zM729 733h1v1h-1zM792 733h1v1h-1zM797 733h1v1h-1zM847 733h2v1h-2zM866 733h1v1h-1zM880 733h2v1h-2zM892 733h1v1h-1zM950 733h2v1h-2zM964 733h2v1h-2zM1009 733h1v1h-1zM1070 733h2v1h-2zM1100 733h1v1h-1zM187 734h1v1h-1zM304 734h1v1h-1zM335 734h1v1h-1zM347 734h1v1h-1zM439 734h1v1h-1zM491 734h1v1h-1zM626 734h1v1h-1zM637 734h1v1h-1zM672 734h4v1h-4zM719 734h1v1h-1zM728 734h1v1h-1zM793 734h1v1h-1zM797 734h1v1h-1zM849 734h2v1h-2zM865 734h1v1h-1zM882 734h1v1h-1zM888 734h4v1h-4zM952 734h1v1h-1zM962 734h2v1h-2zM1010 734h1v1h-1zM1068 734h2v1h-2zM1100 734h1v1h-1zM185 735h2v1h-2zM188 735h1v1h-1zM304 735h1v1h-1zM336 735h1v1h-1zM345 735h2v1h-2zM348 735h1v1h-1zM438 735h1v1h-1zM492 735h1v1h-1zM625 735h1v1h-1zM637 735h1v1h-1zM666 735h6v1h-6zM720 735h1v1h-1zM727 735h1v1h-1zM794 735h1v1h-1zM796 735h1v1h-1zM851 735h1v1h-1zM864 735h1v1h-1zM883 735h5v1h-5zM953 735h2v1h-2zM958 735h4v1h-4zM1010 735h1v1h-1zM1067 735h1v1h-1zM1101 735h1v1h-1zM183 736h2v1h-2zM188 736h1v1h-1zM303 736h1v1h-1zM337 736h1v1h-1zM343 736h2v1h-2zM349 736h1v1h-1zM379 736h2v1h-2zM438 736h1v1h-1zM492 736h1v1h-1zM610 736h3v1h-3zM624 736h1v1h-1zM638 736h1v1h-1zM664 736h2v1h-2zM721 736h1v1h-1zM726 736h1v1h-1zM795 736h1v1h-1zM852 736h2v1h-2zM863 736h1v1h-1zM955 736h3v1h-3zM1011 736h1v1h-1zM1065 736h2v1h-2zM1102 736h1v1h-1zM181 737h2v1h-2zM189 737h1v1h-1zM302 737h1v1h-1zM338 737h1v1h-1zM341 737h2v1h-2zM350 737h1v1h-1zM378 737h1v1h-1zM381 737h3v1h-3zM437 737h1v1h-1zM493 737h1v1h-1zM608 737h2v1h-2zM613 737h2v1h-2zM622 737h2v1h-2zM638 737h1v1h-1zM661 737h3v1h-3zM721 737h1v1h-1zM725 737h1v1h-1zM854 737h1v1h-1zM863 737h1v1h-1zM1012 737h1v1h-1zM1063 737h2v1h-2zM1103 737h1v1h-1zM50 738h3v1h-3zM163 738h18v1h-18zM189 738h1v1h-1zM275 738h3v1h-3zM302 738h1v1h-1zM339 738h2v1h-2zM351 738h1v1h-1zM377 738h1v1h-1zM384 738h2v1h-2zM436 738h1v1h-1zM494 738h1v1h-1zM605 738h3v1h-3zM615 738h2v1h-2zM621 738h1v1h-1zM639 738h1v1h-1zM659 738h2v1h-2zM722 738h1v1h-1zM724 738h1v1h-1zM855 738h1v1h-1zM862 738h1v1h-1zM1012 738h1v1h-1zM1061 738h2v1h-2zM1103 738h1v1h-1zM48 739h2v1h-2zM53 739h2v1h-2zM162 739h1v1h-1zM190 739h1v1h-1zM274 739h1v1h-1zM278 739h4v1h-4zM301 739h1v1h-1zM351 739h1v1h-1zM376 739h1v1h-1zM386 739h2v1h-2zM427 739h5v1h-5zM436 739h1v1h-1zM494 739h1v1h-1zM600 739h5v1h-5zM617 739h2v1h-2zM620 739h1v1h-1zM640 739h1v1h-1zM658 739h1v1h-1zM723 739h1v1h-1zM856 739h2v1h-2zM861 739h1v1h-1zM1013 739h1v1h-1zM1058 739h3v1h-3zM1104 739h1v1h-1zM45 740h3v1h-3zM55 740h2v1h-2zM161 740h1v1h-1zM190 740h1v1h-1zM274 740h1v1h-1zM282 740h12v1h-12zM300 740h1v1h-1zM352 740h1v1h-1zM375 740h1v1h-1zM388 740h2v1h-2zM426 740h1v1h-1zM432 740h4v1h-4zM495 740h1v1h-1zM595 740h5v1h-5zM619 740h1v1h-1zM640 740h1v1h-1zM657 740h1v1h-1zM858 740h1v1h-1zM860 740h1v1h-1zM1014 740h1v1h-1zM1054 740h4v1h-4zM1105 740h1v1h-1zM43 741h2v1h-2zM57 741h2v1h-2zM161 741h1v1h-1zM191 741h1v1h-1zM273 741h1v1h-1zM294 741h4v1h-4zM300 741h1v1h-1zM353 741h1v1h-1zM374 741h1v1h-1zM390 741h1v1h-1zM424 741h2v1h-2zM496 741h1v1h-1zM593 741h2v1h-2zM641 741h1v1h-1zM656 741h1v1h-1zM859 741h1v1h-1zM1015 741h1v1h-1zM1051 741h3v1h-3zM1106 741h1v1h-1zM42 742h1v1h-1zM59 742h1v1h-1zM160 742h1v1h-1zM192 742h1v1h-1zM272 742h1v1h-1zM298 742h2v1h-2zM354 742h1v1h-1zM373 742h1v1h-1zM391 742h1v1h-1zM423 742h1v1h-1zM496 742h1v1h-1zM591 742h2v1h-2zM641 742h1v1h-1zM655 742h1v1h-1zM1015 742h1v1h-1zM1050 742h1v1h-1zM1106 742h1v1h-1zM41 743h1v1h-1zM60 743h1v1h-1zM159 743h1v1h-1zM192 743h1v1h-1zM272 743h1v1h-1zM355 743h5v1h-5zM372 743h1v1h-1zM392 743h2v1h-2zM422 743h1v1h-1zM497 743h1v1h-1zM589 743h2v1h-2zM642 743h1v1h-1zM655 743h1v1h-1zM1016 743h1v1h-1zM1049 743h1v1h-1zM1107 743h2v1h-2zM3 744h1v1h-1zM40 744h1v1h-1zM60 744h1v1h-1zM158 744h1v1h-1zM193 744h1v1h-1zM271 744h1v1h-1zM360 744h12v1h-12zM394 744h1v1h-1zM408 744h8v1h-8zM420 744h2v1h-2zM498 744h1v1h-1zM571 744h2v1h-2zM587 744h2v1h-2zM642 744h1v1h-1zM654 744h1v1h-1zM1017 744h1v1h-1zM1048 744h1v1h-1zM1109 744h2v1h-2zM4 745h1v1h-1zM39 745h1v1h-1zM61 745h1v1h-1zM157 745h1v1h-1zM193 745h1v1h-1zM270 745h1v1h-1zM395 745h13v1h-13zM416 745h4v1h-4zM498 745h1v1h-1zM570 745h1v1h-1zM573 745h2v1h-2zM585 745h2v1h-2zM643 745h3v1h-3zM653 745h1v1h-1zM1018 745h1v1h-1zM1047 745h1v1h-1zM1111 745h2v1h-2zM5 746h1v1h-1zM38 746h1v1h-1zM62 746h1v1h-1zM147 746h3v1h-3zM157 746h1v1h-1zM194 746h1v1h-1zM270 746h1v1h-1zM499 746h9v1h-9zM570 746h1v1h-1zM575 746h2v1h-2zM583 746h2v1h-2zM646 746h4v1h-4zM652 746h1v1h-1zM1018 746h1v1h-1zM1046 746h1v1h-1zM1113 746h2v1h-2zM5 747h1v1h-1zM37 747h1v1h-1zM63 747h1v1h-1zM146 747h1v1h-1zM150 747h4v1h-4zM156 747h1v1h-1zM194 747h1v1h-1zM269 747h1v1h-1zM508 747h1v1h-1zM569 747h1v1h-1zM577 747h2v1h-2zM581 747h2v1h-2zM650 747h2v1h-2zM1019 747h2v1h-2zM1045 747h1v1h-1zM1115 747h1v1h-1zM6 748h1v1h-1zM36 748h1v1h-1zM63 748h1v1h-1zM144 748h2v1h-2zM154 748h2v1h-2zM195 748h1v1h-1zM268 748h1v1h-1zM508 748h1v1h-1zM569 748h1v1h-1zM579 748h2v1h-2zM1021 748h2v1h-2zM1044 748h1v1h-1zM7 749h1v1h-1zM35 749h1v1h-1zM64 749h1v1h-1zM143 749h1v1h-1zM196 749h1v1h-1zM268 749h1v1h-1zM509 749h1v1h-1zM568 749h1v1h-1zM1023 749h2v1h-2zM1042 749h2v1h-2zM8 750h1v1h-1zM34 750h1v1h-1zM65 750h1v1h-1zM142 750h1v1h-1zM196 750h1v1h-1zM267 750h1v1h-1zM509 750h1v1h-1zM523 750h5v1h-5zM568 750h1v1h-1zM1025 750h2v1h-2zM1038 750h4v1h-4zM9 751h1v1h-1zM32 751h2v1h-2zM66 751h1v1h-1zM140 751h2v1h-2zM197 751h1v1h-1zM266 751h1v1h-1zM510 751h1v1h-1zM522 751h1v1h-1zM528 751h8v1h-8zM567 751h1v1h-1zM1027 751h11v1h-11zM9 752h1v1h-1zM31 752h1v1h-1zM66 752h1v1h-1zM139 752h1v1h-1zM197 752h1v1h-1zM265 752h1v1h-1zM510 752h1v1h-1zM521 752h1v1h-1zM536 752h6v1h-6zM567 752h1v1h-1zM10 753h1v1h-1zM30 753h1v1h-1zM67 753h3v1h-3zM138 753h1v1h-1zM198 753h1v1h-1zM265 753h1v1h-1zM511 753h1v1h-1zM521 753h1v1h-1zM542 753h4v1h-4zM566 753h1v1h-1zM11 754h2v1h-2zM28 754h2v1h-2zM70 754h4v1h-4zM137 754h1v1h-1zM199 754h1v1h-1zM264 754h1v1h-1zM512 754h1v1h-1zM520 754h1v1h-1zM546 754h6v1h-6zM566 754h1v1h-1zM13 755h2v1h-2zM26 755h2v1h-2zM74 755h2v1h-2zM136 755h1v1h-1zM199 755h1v1h-1zM263 755h1v1h-1zM512 755h1v1h-1zM519 755h1v1h-1zM552 755h5v1h-5zM565 755h1v1h-1zM15 756h2v1h-2zM24 756h2v1h-2zM76 756h1v1h-1zM135 756h1v1h-1zM200 756h1v1h-1zM262 756h1v1h-1zM513 756h1v1h-1zM518 756h1v1h-1zM557 756h2v1h-2zM565 756h1v1h-1zM17 757h2v1h-2zM21 757h3v1h-3zM77 757h1v1h-1zM134 757h1v1h-1zM201 757h1v1h-1zM261 757h1v1h-1zM513 757h1v1h-1zM517 757h1v1h-1zM559 757h2v1h-2zM564 757h1v1h-1zM19 758h2v1h-2zM78 758h1v1h-1zM133 758h1v1h-1zM201 758h1v1h-1zM243 758h5v1h-5zM261 758h1v1h-1zM514 758h1v1h-1zM517 758h1v1h-1zM561 758h2v1h-2zM564 758h1v1h-1zM79 759h1v1h-1zM132 759h1v1h-1zM202 759h1v1h-1zM241 759h2v1h-2zM248 759h8v1h-8zM260 759h1v1h-1zM514 759h1v1h-1zM516 759h1v1h-1zM563 759h1v1h-1zM80 760h1v1h-1zM99 760h2v1h-2zM123 760h9v1h-9zM202 760h1v1h-1zM239 760h2v1h-2zM256 760h4v1h-4zM515 760h1v1h-1zM81 761h1v1h-1zM97 761h2v1h-2zM101 761h2v1h-2zM122 761h1v1h-1zM203 761h2v1h-2zM237 761h2v1h-2zM82 762h1v1h-1zM95 762h2v1h-2zM103 762h2v1h-2zM121 762h1v1h-1zM205 762h3v1h-3zM235 762h2v1h-2zM83 763h5v1h-5zM93 763h2v1h-2zM105 763h2v1h-2zM120 763h1v1h-1zM208 763h2v1h-2zM234 763h1v1h-1zM88 764h5v1h-5zM107 764h2v1h-2zM119 764h1v1h-1zM210 764h4v1h-4zM232 764h2v1h-2zM109 765h2v1h-2zM118 765h1v1h-1zM214 765h4v1h-4zM231 765h1v1h-1zM111 766h2v1h-2zM117 766h1v1h-1zM218 766h4v1h-4zM230 766h1v1h-1zM113 767h2v1h-2zM116 767h1v1h-1zM222 767h4v1h-4zM228 767h2v1h-2zM115 768h1v1h-1zM226 768h2v1h-2z" fill="#1e90ff"/>
</g>
<g shape-rendering="crispEdges">
<rect x="6" y="42" width="221" height="67" fill="#fff" />
<rect x="6" y="43" width="52" height="24" fill="#c41414" />
<rect x="7" y="44" width="50" height="23" fill="url(#gTop)" />
<rect x="173" y="43" width="52" height="24" fill="#c41414" />
<rect x="174" y="44" width="50" height="23" fill="url(#gTop)" />
<rect x="6" y="67" width="109" height="40" fill="#b81010" />
<rect x="7" y="67" width="107" height="39" fill="url(#gBot)" />
<rect x="117" y="67" width="108" height="40" fill="#b81010" />
<rect x="118" y="67" width="106" height="39" fill="url(#gBot)" />
<rect x="7" y="67" width="50" height="1" fill="#e43636" />
<rect x="174" y="67" width="50" height="1" fill="#e43636" />
<rect x="10" y="66" width="44" height="1" fill="#7c0000" />
<rect x="10" y="67" width="44" height="1" fill="#f46a6a" />
<rect x="177" y="66" width="44" height="1" fill="#7c0000" />
<rect x="177" y="67" width="44" height="1" fill="#f46a6a" />
<rect x="60" y="43" width="111" height="22" fill="#a4acb4" />
<rect x="61" y="44" width="109" height="20" fill="#fff" />
<rect x="61" y="44" width="20" height="20" fill="url(#gBtn)" />
<rect x="81" y="44" width="1" height="20" fill="#a4acb4" />
<rect x="150" y="44" width="20" height="20" fill="url(#gBtn)" />
<rect x="149" y="44" width="1" height="20" fill="#a4acb4" />
</g>
<polygon points="68,52.5 73.4,52.5 70.7,55.6" fill="#4a64c8"/>
<polygon points="157.1,55.6 162.5,55.6 159.8,52.5" fill="#4a64c8"/>
<text x="18.4" y="58.9" font-size="12.8" fill="#fff" textLength="25.6" lengthAdjust="spacingAndGlyphs" >SELL</text>
<text x="186.6" y="58.9" font-size="12.8" fill="#fff" textLength="23" lengthAdjust="spacingAndGlyphs" >BUY</text>
<text x="145.8" y="58.5" font-size="12" fill="#000" text-anchor="end" >1.00</text>
<text x="25.9" y="97.5" font-size="11" fill="#fff" textLength="24" lengthAdjust="spacingAndGlyphs" font-weight="bold" >0.98</text>
<text x="136" y="97.5" font-size="11" fill="#fff" textLength="24" lengthAdjust="spacingAndGlyphs" font-weight="bold" >0.98</text>
<text x="52.0" y="98.1" font-size="35" fill="#fff" textLength="38" lengthAdjust="spacingAndGlyphs" stroke="url(#gBot)" stroke-width="0.8">70</text>
<text x="163.0" y="98.1" font-size="35" fill="#fff" textLength="38" lengthAdjust="spacingAndGlyphs" stroke="url(#gBot)" stroke-width="0.8">72</text>
<text x="93.5" y="82" font-size="12" fill="#fff" font-weight="bold" >3</text>
<text x="204.2" y="82" font-size="12" fill="#fff" font-weight="bold" >5</text>
<text x="5.5" y="11" font-size="9.6" fill="#2c2c2c" textLength="12.5" lengthAdjust="spacingAndGlyphs" stroke="#2c2c2c" stroke-width="0.1">H4</text>
<text x="35" y="11" font-size="9.6" fill="#2c2c2c" textLength="11" lengthAdjust="spacingAndGlyphs" stroke="#2c2c2c" stroke-width="0.1">D1</text>
<text x="62" y="11" font-size="9.6" fill="#2c2c2c" textLength="14" lengthAdjust="spacingAndGlyphs" stroke="#2c2c2c" stroke-width="0.1">W1</text>
<text x="88.5" y="11" font-size="9.6" fill="#2c2c2c" textLength="14.5" lengthAdjust="spacingAndGlyphs" stroke="#2c2c2c" stroke-width="0.1">MN</text>
<polygon points="6,34 13,34 9.5,30" fill="#000"/>
<text x="18.2" y="35" font-size="10.0" fill="#000" textLength="67.4" lengthAdjust="spacingAndGlyphs" stroke="#000" stroke-width="0.4">USDCHF-,Daily</text>
<text x="92.4" y="35" font-size="10.0" fill="#000" textLength="32.3" lengthAdjust="spacingAndGlyphs" stroke="#000" stroke-width="0.4">0.98890</text>
<text x="127.8" y="35" font-size="10.0" fill="#000" textLength="32.3" lengthAdjust="spacingAndGlyphs" stroke="#000" stroke-width="0.4">0.98892</text>
<text x="164" y="35" font-size="10.0" fill="#000" textLength="32.3" lengthAdjust="spacingAndGlyphs" stroke="#000" stroke-width="0.4">0.98666</text>
<text x="200" y="35" font-size="10.0" fill="#000" textLength="32.3" lengthAdjust="spacingAndGlyphs" stroke="#000" stroke-width="0.4">0.98703</text>
<text x="7.5" y="578" font-size="10.0" fill="#000" textLength="153.5" lengthAdjust="spacingAndGlyphs" stroke="#000" stroke-width="0.4">MACD(12,26,9) -0.000396 -0.000299</text>
<text x="7.5" y="684" font-size="10.0" fill="#000" textLength="67.5" lengthAdjust="spacingAndGlyphs" stroke="#000" stroke-width="0.4">RSI(14) 41.7257</text>
<text x="1424.6" y="36" font-size="10.0" fill="#000" textLength="32.3" lengthAdjust="spacingAndGlyphs" stroke="#000" stroke-width="0.4">1.01350</text>
<text x="1424.6" y="69" font-size="10.0" fill="#000" textLength="32.3" lengthAdjust="spacingAndGlyphs" stroke="#000" stroke-width="0.4">1.01045</text>
<text x="1424.6" y="102" font-size="10.0" fill="#000" textLength="32.3" lengthAdjust="spacingAndGlyphs" stroke="#000" stroke-width="0.4">1.00740</text>
<text x="1424.6" y="135" font-size="10.0" fill="#000" textLength="32.3" lengthAdjust="spacingAndGlyphs" stroke="#000" stroke-width="0.4">1.00440</text>
<text x="1424.6" y="168" font-size="10.0" fill="#000" textLength="32.3" lengthAdjust="spacingAndGlyphs" stroke="#000" stroke-width="0.4">1.00135</text>
<text x="1424.6" y="201" font-size="10.0" fill="#000" textLength="32.3" lengthAdjust="spacingAndGlyphs" stroke="#000" stroke-width="0.4">0.99830</text>
<text x="1424.6" y="267" font-size="10.0" fill="#000" textLength="32.3" lengthAdjust="spacingAndGlyphs" stroke="#000" stroke-width="0.4">0.99225</text>
<text x="1424.6" y="300" font-size="10.0" fill="#000" textLength="32.3" lengthAdjust="spacingAndGlyphs" stroke="#000" stroke-width="0.4">0.98920</text>
<text x="1424.6" y="333" font-size="10.0" fill="#000" textLength="32.3" lengthAdjust="spacingAndGlyphs" stroke="#000" stroke-width="0.4">0.98615</text>
<text x="1424.6" y="366" font-size="10.0" fill="#000" textLength="32.3" lengthAdjust="spacingAndGlyphs" stroke="#000" stroke-width="0.4">0.98315</text>
<text x="1424.6" y="432" font-size="10.0" fill="#000" textLength="32.3" lengthAdjust="spacingAndGlyphs" stroke="#000" stroke-width="0.4">0.97705</text>
<text x="1424.6" y="465" font-size="10.0" fill="#000" textLength="32.3" lengthAdjust="spacingAndGlyphs" stroke="#000" stroke-width="0.4">0.97400</text>
<text x="1424.6" y="498" font-size="10.0" fill="#000" textLength="32.3" lengthAdjust="spacingAndGlyphs" stroke="#000" stroke-width="0.4">0.97100</text>
<text x="1424.6" y="531" font-size="10.0" fill="#000" textLength="32.3" lengthAdjust="spacingAndGlyphs" stroke="#000" stroke-width="0.4">0.96795</text>
<text x="1424.6" y="564" font-size="10.0" fill="#000" textLength="32.3" lengthAdjust="spacingAndGlyphs" stroke="#000" stroke-width="0.4">0.96490</text>
<text x="1424.6" y="116" font-size="10.0" fill="#fff" textLength="32.3" lengthAdjust="spacingAndGlyphs" stroke="#fff" stroke-width="0.3">1.00602</text>
<text x="1424.6" y="236" font-size="10.0" fill="#fff" textLength="32.3" lengthAdjust="spacingAndGlyphs" stroke="#fff" stroke-width="0.3">0.99503</text>
<text x="1424.6" y="399" font-size="10.0" fill="#fff" textLength="32.3" lengthAdjust="spacingAndGlyphs" stroke="#fff" stroke-width="0.3">0.98000</text>
<text x="1424.6" y="507" font-size="10.0" fill="#fff" textLength="32.3" lengthAdjust="spacingAndGlyphs" stroke="#fff" stroke-width="0.3">0.97005</text>
<text x="1424.6" y="324" font-size="10.0" fill="#fff" textLength="32.3" lengthAdjust="spacingAndGlyphs" stroke="#fff" stroke-width="0.3">0.98703</text>
<text x="1422" y="576" font-size="10.0" fill="#000" textLength="37.5" lengthAdjust="spacingAndGlyphs" stroke="#000" stroke-width="0.4">0.003574</text>
<text x="1422" y="603" font-size="10.0" fill="#000" textLength="18" lengthAdjust="spacingAndGlyphs" stroke="#000" stroke-width="0.4">0.00</text>
<text x="1422" y="666" font-size="10.0" fill="#000" textLength="36" lengthAdjust="spacingAndGlyphs" stroke="#000" stroke-width="0.4">-0.00749</text>
<text x="1422" y="682" font-size="10.0" fill="#000" textLength="14.5" lengthAdjust="spacingAndGlyphs" stroke="#000" stroke-width="0.4">100</text>
<text x="1422" y="715" font-size="10.0" fill="#000" textLength="9.5" lengthAdjust="spacingAndGlyphs" stroke="#000" stroke-width="0.4">70</text>
<text x="1422" y="766" font-size="10.0" fill="#000" textLength="9.5" lengthAdjust="spacingAndGlyphs" stroke="#000" stroke-width="0.4">30</text>
<text x="1422" y="798" font-size="10.0" fill="#000" textLength="4.7" lengthAdjust="spacingAndGlyphs" stroke="#000" stroke-width="0.4">0</text>
<text x="2.5" y="813.5" font-size="10.0" fill="#000" textLength="54" lengthAdjust="spacingAndGlyphs" stroke="#000" stroke-width="0.4">22 May 2019</text>
<text x="66.2" y="813.5" font-size="10.0" fill="#000" textLength="54.2" lengthAdjust="spacingAndGlyphs" stroke="#000" stroke-width="0.4">31 May 2019</text>
<text x="130.4" y="813.5" font-size="10.0" fill="#000" textLength="49" lengthAdjust="spacingAndGlyphs" stroke="#000" stroke-width="0.4">10 Jun 2019</text>
<text x="194.4" y="813.5" font-size="10.0" fill="#000" textLength="49.2" lengthAdjust="spacingAndGlyphs" stroke="#000" stroke-width="0.4">19 Jun 2019</text>
<text x="258.3" y="813.5" font-size="10.0" fill="#000" textLength="49" lengthAdjust="spacingAndGlyphs" stroke="#000" stroke-width="0.4">28 Jun 2019</text>
<text x="322.3" y="813.5" font-size="10.0" fill="#000" textLength="40.5" lengthAdjust="spacingAndGlyphs" stroke="#000" stroke-width="0.4">8 Jul 2019</text>
<text x="386.7" y="813.5" font-size="10.0" fill="#000" textLength="46.2" lengthAdjust="spacingAndGlyphs" stroke="#000" stroke-width="0.4">17 Jul 2019</text>
<text x="450.4" y="813.5" font-size="10.0" fill="#000" textLength="46.5" lengthAdjust="spacingAndGlyphs" stroke="#000" stroke-width="0.4">26 Jul 2019</text>
<text x="514.4" y="813.5" font-size="10.0" fill="#000" textLength="47.2" lengthAdjust="spacingAndGlyphs" stroke="#000" stroke-width="0.4">5 Aug 2019</text>
<text x="578.6" y="813.5" font-size="10.0" fill="#000" textLength="52" lengthAdjust="spacingAndGlyphs" stroke="#000" stroke-width="0.4">14 Aug 2019</text>
<text x="642.3" y="813.5" font-size="10.0" fill="#000" textLength="52" lengthAdjust="spacingAndGlyphs" stroke="#000" stroke-width="0.4">23 Aug 2019</text>
<text x="706.8" y="813.5" font-size="10.0" fill="#000" textLength="46" lengthAdjust="spacingAndGlyphs" stroke="#000" stroke-width="0.4">2 Sep 2019</text>
<text x="771" y="813.5" font-size="10.0" fill="#000" textLength="51" lengthAdjust="spacingAndGlyphs" stroke="#000" stroke-width="0.4">11 Sep 2019</text>
<text x="834.3" y="813.5" font-size="10.0" fill="#000" textLength="51.6" lengthAdjust="spacingAndGlyphs" stroke="#000" stroke-width="0.4">20 Sep 2019</text>
<text x="898.3" y="813.5" font-size="10.0" fill="#000" textLength="51.4" lengthAdjust="spacingAndGlyphs" stroke="#000" stroke-width="0.4">30 Sep 2019</text>
<text x="962.4" y="813.5" font-size="10.0" fill="#000" textLength="45.3" lengthAdjust="spacingAndGlyphs" stroke="#000" stroke-width="0.4">9 Oct 2019</text>
<text x="1026.7" y="813.5" font-size="10.0" fill="#000" textLength="49.5" lengthAdjust="spacingAndGlyphs" stroke="#000" stroke-width="0.4">18 Oct 2019</text>
<text x="1090.7" y="813.5" font-size="10.0" fill="#000" textLength="50" lengthAdjust="spacingAndGlyphs" stroke="#000" stroke-width="0.4">28 Oct 2019</text>
<text x="15.3" y="839" font-size="12.3" fill="#6d6d6d" textLength="84.2" lengthAdjust="spacingAndGlyphs" >EURUSD-,Daily</text>
<text x="122" y="839" font-size="12.3" fill="#6d6d6d" textLength="87" lengthAdjust="spacingAndGlyphs" >AUDUSD-,Daily</text>
<text x="231.9" y="839" font-size="12.3" fill="#000" textLength="84.5" lengthAdjust="spacingAndGlyphs" >USDCHF-,Daily</text>
<text x="339.3" y="839" font-size="12.3" fill="#6d6d6d" textLength="85.5" lengthAdjust="spacingAndGlyphs" >USDCAD-,Daily</text>
<text x="448.3" y="839" font-size="12.3" fill="#6d6d6d" textLength="87.9" lengthAdjust="spacingAndGlyphs" >USDCNH-,Daily</text>
<text x="559" y="839" font-size="12.3" fill="#6d6d6d" textLength="96.7" lengthAdjust="spacingAndGlyphs" >EURCHF-,Weekly</text>
<text x="680.1" y="839" font-size="12.3" fill="#6d6d6d" textLength="99.7" lengthAdjust="spacingAndGlyphs" >XAUUSD-,Weekly</text>
<text x="803.6" y="839" font-size="12.3" fill="#6d6d6d" textLength="72.2" lengthAdjust="spacingAndGlyphs" >GBPUSD-,H1</text>
<text x="899.3" y="839" font-size="12.3" fill="#6d6d6d" textLength="56.7" lengthAdjust="spacingAndGlyphs" >UKOil-,H1</text>
<text x="978" y="839" font-size="12.3" fill="#6d6d6d" textLength="83" lengthAdjust="spacingAndGlyphs" >USDX-,Weekly</text>
<text x="1082" y="839" font-size="12.3" fill="#6d6d6d" textLength="71" lengthAdjust="spacingAndGlyphs" >EURCHF-,H1</text>
<text x="1176" y="839" font-size="12.3" fill="#6d6d6d" textLength="55" lengthAdjust="spacingAndGlyphs" >USOil-,H1</text>
<polygon points="1437.3,830 1437.3,837 1433.5,833.5" fill="#9a9a9a"/>
<polygon points="1452.3,830 1452.3,837 1456,833.5" fill="#9a9a9a"/>
</svg></body></html>
